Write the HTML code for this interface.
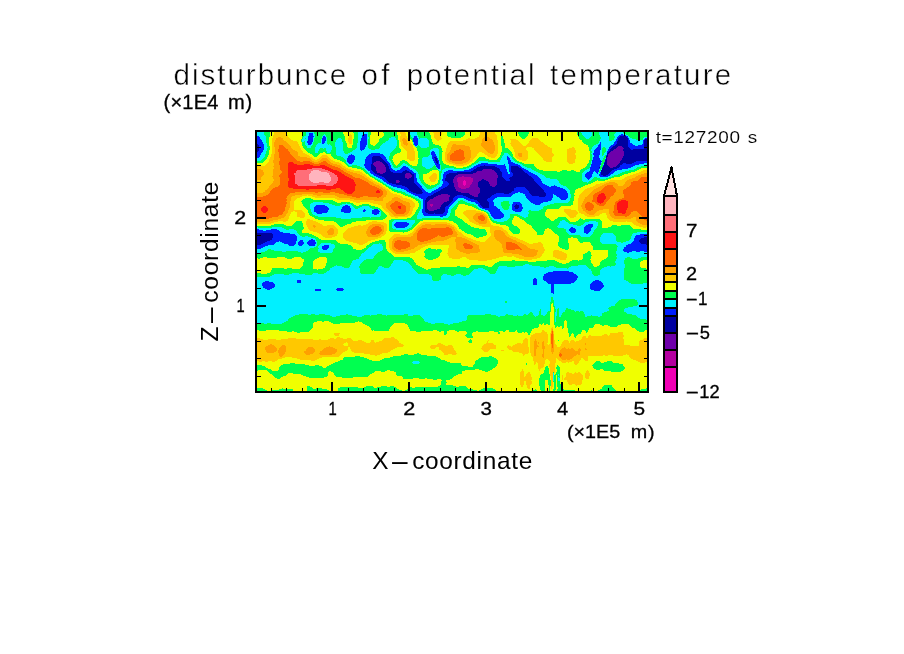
<!DOCTYPE html>
<html lang="en"><head><meta charset="utf-8"><title>disturbunce of potential temperature</title>
<style>
html,body{margin:0;padding:0;background:#fff}
body{width:904px;height:654px;overflow:hidden}
svg{display:block}
text{font-family:"Liberation Sans",sans-serif;fill:#000}
</style></head><body>
<svg width="904" height="654" viewBox="0 0 904 654">
<rect width="904" height="654" fill="#fff"/>
<g transform="translate(256,131)" shape-rendering="crispEdges">
<path fill="#F000B4" d="M208 49h1v1h-1zM207 50h3v4h-3zM208 54h1v1h-1z"/>
<path fill="#B400A0" d="M206 45h2v1h-2zM202 46h13v1h-13zM201 47h16v2h-16zM201 49h7v1h-7zM209 49h8v1h-8zM210 50h7v1h-7zM201 50h6v1h-6zM210 51h6v2h-6zM202 51h5v3h-5zM210 53h5v1h-5zM202 54h6v1h-6zM209 54h5v1h-5zM202 55h12v1h-12zM203 56h10v1h-10zM205 57h5v1h-5zM174 73h3v2h-3zM175 75h1v1h-1z"/>
<path fill="#6E00AA" d="M362 15h4v1h-4zM361 16h6v1h-6zM360 17h8v1h-8zM358 18h9v1h-9zM357 19h10v1h-10zM355 20h13v1h-13zM354 21h14v1h-14zM353 22h15v1h-15zM352 23h16v2h-16zM352 25h15v1h-15zM351 26h16v1h-16zM351 27h15v2h-15zM351 29h14v1h-14zM120 30h4v1h-4zM351 30h13v2h-13zM118 31h8v1h-8zM351 32h12v1h-12zM117 32h10v1h-10zM117 33h11v1h-11zM351 33h11v1h-11zM118 34h11v1h-11zM352 34h9v1h-9zM353 35h7v1h-7zM119 35h10v1h-10zM354 36h3v1h-3zM227 38h9v1h-9zM120 36h10v4h-10zM226 39h12v1h-12zM221 40h18v1h-18zM121 40h9v1h-9zM220 41h20v1h-20zM121 41h8v1h-8zM124 42h3v1h-3zM150 42h4v1h-4zM217 42h24v1h-24zM202 43h39v1h-39zM149 43h6v1h-6zM200 44h42v1h-42zM149 44h7v2h-7zM208 45h34v1h-34zM199 45h7v1h-7zM198 46h4v1h-4zM149 46h6v1h-6zM215 46h27v1h-27zM151 47h2v1h-2zM198 47h3v1h-3zM217 47h24v1h-24zM228 48h13v1h-13zM217 48h9v1h-9zM217 49h8v1h-8zM230 49h11v1h-11zM140 49h3v1h-3zM197 48h4v3h-4zM217 50h6v1h-6zM140 50h4v1h-4zM232 50h9v1h-9zM197 51h5v1h-5zM140 51h3v1h-3zM216 51h6v2h-6zM233 51h8v2h-8zM234 53h7v1h-7zM215 53h7v1h-7zM234 54h6v1h-6zM198 52h4v4h-4zM214 54h8v2h-8zM236 55h3v1h-3zM213 56h10v1h-10zM199 56h4v1h-4zM210 57h14v1h-14zM199 57h6v1h-6zM200 58h24v2h-24zM202 60h22v1h-22zM205 61h19v1h-19zM213 62h10v1h-10zM185 63h7v1h-7zM214 63h8v1h-8zM182 64h12v1h-12zM216 64h6v1h-6zM180 65h14v1h-14zM218 65h4v1h-4zM178 66h15v1h-15zM177 67h16v1h-16zM174 68h19v1h-19zM173 69h20v1h-20zM172 70h19v1h-19zM171 71h17v1h-17zM171 72h16v1h-16zM177 73h9v1h-9zM171 73h3v2h-3zM177 74h8v1h-8zM171 75h4v1h-4zM176 75h9v1h-9zM171 76h13v2h-13zM172 78h9v1h-9zM173 79h5v1h-5z"/>
<path fill="#0000A0" d="M364 5h6v1h-6zM363 6h8v1h-8zM389 8h3v1h-3zM362 7h10v3h-10zM361 10h11v3h-11zM0 12h1v1h-1zM0 13h2v1h-2zM360 13h12v1h-12zM359 14h13v1h-13zM388 9h4v7h-4zM357 15h5v1h-5zM366 15h6v1h-6zM356 16h5v1h-5zM367 16h6v1h-6zM389 16h3v1h-3zM388 17h4v1h-4zM355 17h5v1h-5zM368 17h6v1h-6zM354 18h4v1h-4zM377 18h15v1h-15zM367 18h8v1h-8zM0 14h3v6h-3zM354 19h3v1h-3zM367 19h25v1h-25zM0 20h2v1h-2zM353 20h2v1h-2zM352 21h2v1h-2zM351 22h2v1h-2zM368 20h24v5h-24zM351 23h1v2h-1zM117 25h7v1h-7zM350 25h2v1h-2zM367 25h25v2h-25zM116 26h9v1h-9zM178 26h2v1h-2zM116 27h10v1h-10zM350 26h1v3h-1zM366 27h26v2h-26zM116 28h11v1h-11zM179 27h2v3h-2zM116 29h12v1h-12zM365 29h27v1h-27zM116 30h4v1h-4zM124 30h5v1h-5zM364 30h16v1h-16zM349 29h2v3h-2zM180 30h2v2h-2zM126 31h4v1h-4zM116 31h2v1h-2zM364 31h14v1h-14zM116 32h1v1h-1zM127 32h4v1h-4zM363 32h4v1h-4zM181 32h1v1h-1zM370 32h6v1h-6zM348 32h3v2h-3zM362 33h4v1h-4zM115 33h2v1h-2zM128 33h4v1h-4zM228 34h1v1h-1zM348 34h4v1h-4zM361 34h3v1h-3zM115 34h3v1h-3zM129 34h3v1h-3zM224 35h15v1h-15zM360 35h4v1h-4zM115 35h4v1h-4zM129 35h4v1h-4zM255 35h7v1h-7zM347 35h6v1h-6zM221 36h20v1h-20zM357 36h6v1h-6zM347 36h7v1h-7zM343 36h1v1h-1zM255 36h8v1h-8zM130 36h3v2h-3zM220 37h23v1h-23zM346 37h15v1h-15zM255 37h10v1h-10zM115 36h5v3h-5zM218 38h9v1h-9zM255 38h11v1h-11zM346 38h12v1h-12zM236 38h8v1h-8zM130 38h4v2h-4zM149 39h2v1h-2zM345 39h11v1h-11zM238 39h6v1h-6zM217 39h9v1h-9zM255 39h12v1h-12zM116 39h4v1h-4zM215 40h6v1h-6zM239 40h6v1h-6zM255 40h13v1h-13zM147 40h6v1h-6zM130 40h5v1h-5zM345 40h10v1h-10zM117 40h4v1h-4zM345 41h9v1h-9zM201 41h19v1h-19zM118 41h3v1h-3zM240 41h6v1h-6zM146 41h9v1h-9zM129 41h8v1h-8zM256 41h13v1h-13zM154 42h2v1h-2zM193 42h24v1h-24zM345 42h8v1h-8zM127 42h23v1h-23zM257 42h14v1h-14zM119 42h5v1h-5zM241 42h5v2h-5zM345 43h7v1h-7zM155 43h3v1h-3zM257 43h15v1h-15zM191 43h11v1h-11zM121 43h28v1h-28zM123 44h26v1h-26zM347 44h3v1h-3zM190 44h10v1h-10zM257 44h16v1h-16zM242 44h4v2h-4zM156 44h2v2h-2zM256 45h19v1h-19zM126 45h23v1h-23zM190 45h9v1h-9zM155 46h3v1h-3zM190 46h8v1h-8zM254 46h22v1h-22zM128 46h21v1h-21zM242 46h5v1h-5zM129 47h22v1h-22zM253 47h24v1h-24zM241 47h7v1h-7zM153 47h5v1h-5zM189 47h9v1h-9zM241 48h8v1h-8zM130 48h28v1h-28zM226 48h2v1h-2zM189 48h8v2h-8zM254 48h24v2h-24zM143 49h15v1h-15zM131 49h9v1h-9zM241 49h9v1h-9zM225 49h5v1h-5zM223 50h9v1h-9zM241 50h38v1h-38zM144 50h14v1h-14zM132 50h8v1h-8zM191 50h6v1h-6zM241 51h39v1h-39zM133 51h7v1h-7zM143 51h15v1h-15zM192 51h5v1h-5zM222 51h11v2h-11zM136 52h23v1h-23zM241 52h40v1h-40zM193 52h5v2h-5zM241 53h41v1h-41zM140 53h20v1h-20zM222 53h12v2h-12zM146 54h15v1h-15zM240 54h43v1h-43zM192 54h6v1h-6zM149 55h13v1h-13zM191 55h7v1h-7zM239 55h45v1h-45zM222 55h14v1h-14zM189 56h10v1h-10zM223 56h37v1h-37zM269 56h16v1h-16zM151 56h12v1h-12zM270 57h16v1h-16zM187 57h12v1h-12zM152 57h12v1h-12zM271 58h16v1h-16zM153 58h12v1h-12zM185 58h15v1h-15zM224 57h34v3h-34zM272 59h16v1h-16zM184 59h16v1h-16zM153 59h13v1h-13zM182 60h20v1h-20zM224 60h32v1h-32zM155 60h11v1h-11zM273 60h15v1h-15zM273 61h16v1h-16zM224 61h31v1h-31zM180 61h25v1h-25zM157 61h10v1h-10zM248 62h5v1h-5zM178 62h35v1h-35zM160 62h6v1h-6zM223 62h17v1h-17zM274 62h16v1h-16zM177 63h8v1h-8zM275 63h15v1h-15zM192 63h22v1h-22zM222 63h16v1h-16zM276 64h14v1h-14zM207 64h9v1h-9zM175 64h7v1h-7zM194 64h7v1h-7zM222 64h14v1h-14zM210 65h8v1h-8zM222 65h13v1h-13zM283 65h6v1h-6zM172 65h8v1h-8zM194 65h5v1h-5zM212 66h22v1h-22zM193 66h5v1h-5zM171 66h7v1h-7zM214 67h18v1h-18zM170 67h7v1h-7zM218 68h13v1h-13zM170 68h4v1h-4zM193 67h4v3h-4zM169 69h4v1h-4zM221 69h10v1h-10zM191 70h5v1h-5zM222 70h10v1h-10zM169 70h3v1h-3zM188 71h7v1h-7zM223 71h10v1h-10zM187 72h7v1h-7zM224 72h9v2h-9zM260 73h1v1h-1zM186 73h7v1h-7zM225 74h8v1h-8zM185 74h7v1h-7zM259 74h4v1h-4zM226 75h7v1h-7zM258 75h5v1h-5zM185 75h5v1h-5zM227 76h6v1h-6zM259 76h4v1h-4zM169 71h2v7h-2zM184 76h5v2h-5zM259 77h3v1h-3zM181 78h8v1h-8zM169 78h3v1h-3zM169 79h4v1h-4zM178 79h11v1h-11zM169 80h20v1h-20zM170 81h18v1h-18zM179 82h8v1h-8zM172 82h6v1h-6zM0 102h16v1h-16zM0 103h17v4h-17zM388 106h4v1h-4zM385 107h7v1h-7zM0 107h16v2h-16zM384 108h8v1h-8zM0 109h14v1h-14zM383 109h9v2h-9zM0 110h11v1h-11zM384 111h8v1h-8zM0 111h9v1h-9zM0 112h7v1h-7zM385 112h7v1h-7zM390 113h2v1h-2zM0 113h5v1h-5z"/>
<path fill="#001EFF" d="M107 3h4v1h-4zM365 3h2v1h-2zM53 2h4v3h-4zM363 4h7v1h-7zM52 5h6v1h-6zM67 5h2v1h-2zM370 5h2v1h-2zM362 5h2v1h-2zM0 5h3v1h-3zM106 4h5v3h-5zM158 5h3v2h-3zM361 6h2v1h-2zM371 6h1v1h-1zM67 6h3v1h-3zM0 6h4v2h-4zM389 7h3v1h-3zM361 7h1v1h-1zM372 7h1v2h-1zM388 8h1v1h-1zM0 8h5v1h-5zM52 6h5v4h-5zM105 7h6v3h-6zM66 7h4v3h-4zM360 8h2v2h-2zM157 7h5v4h-5zM0 9h6v2h-6zM51 10h6v1h-6zM359 10h2v1h-2zM372 9h2v3h-2zM66 10h3v2h-3zM0 11h7v1h-7zM51 11h5v1h-5zM387 9h1v4h-1zM358 11h3v2h-3zM344 11h1v2h-1zM1 12h6v1h-6zM66 12h2v1h-2zM372 12h4v1h-4zM52 12h4v1h-4zM104 10h7v4h-7zM158 11h4v3h-4zM357 13h3v1h-3zM52 13h3v1h-3zM2 13h6v1h-6zM343 13h2v1h-2zM372 13h5v1h-5zM386 13h2v1h-2zM159 14h2v1h-2zM382 14h6v1h-6zM355 14h4v1h-4zM372 14h7v1h-7zM342 14h3v2h-3zM104 14h6v2h-6zM354 15h3v1h-3zM372 15h16v1h-16zM341 16h4v1h-4zM353 16h3v1h-3zM373 16h16v1h-16zM104 16h5v2h-5zM340 17h5v1h-5zM353 17h2v1h-2zM374 17h14v1h-14zM3 14h5v5h-5zM339 18h6v1h-6zM375 18h2v1h-2zM104 18h4v1h-4zM352 18h2v2h-2zM105 19h1v1h-1zM3 19h4v1h-4zM176 20h2v1h-2zM2 20h5v1h-5zM351 20h2v1h-2zM338 19h6v3h-6zM0 21h6v1h-6zM351 21h1v1h-1zM175 21h4v2h-4zM115 22h9v1h-9zM337 22h7v2h-7zM0 22h5v2h-5zM175 23h5v1h-5zM113 23h14v1h-14zM95 23h1v1h-1zM93 24h5v1h-5zM350 24h1v1h-1zM112 24h16v1h-16zM176 24h4v1h-4zM338 24h5v2h-5zM0 24h4v2h-4zM251 25h1v1h-1zM111 25h6v1h-6zM124 25h5v1h-5zM176 25h5v1h-5zM92 25h7v2h-7zM176 26h2v1h-2zM125 26h5v1h-5zM337 26h6v1h-6zM180 26h1v1h-1zM0 26h3v1h-3zM251 26h2v1h-2zM110 26h6v2h-6zM126 27h4v1h-4zM176 27h3v1h-3zM0 27h1v1h-1zM181 27h1v2h-1zM251 27h3v2h-3zM337 27h7v2h-7zM91 27h8v2h-8zM349 28h1v1h-1zM127 28h4v1h-4zM177 28h2v2h-2zM128 29h3v1h-3zM181 29h2v1h-2zM336 29h9v1h-9zM252 29h3v2h-3zM91 29h7v2h-7zM336 30h10v1h-10zM380 30h12v1h-12zM129 30h3v1h-3zM178 30h2v2h-2zM130 31h3v1h-3zM252 31h5v1h-5zM92 31h5v1h-5zM348 31h1v1h-1zM378 31h14v1h-14zM109 28h7v5h-7zM182 30h1v3h-1zM336 31h9v2h-9zM93 32h3v1h-3zM252 32h7v1h-7zM367 32h3v1h-3zM376 32h12v1h-12zM179 32h2v1h-2zM225 32h7v1h-7zM131 32h3v1h-3zM222 33h19v1h-19zM179 33h5v1h-5zM248 33h1v1h-1zM366 33h17v1h-17zM335 33h10v1h-10zM253 33h9v1h-9zM132 33h2v1h-2zM108 33h7v2h-7zM220 34h8v1h-8zM364 34h15v1h-15zM253 34h11v1h-11zM132 34h3v1h-3zM229 34h20v1h-20zM347 34h1v1h-1zM335 34h9v2h-9zM180 34h4v2h-4zM364 35h13v1h-13zM218 35h6v1h-6zM147 35h3v1h-3zM239 35h11v1h-11zM262 35h3v1h-3zM133 35h2v2h-2zM109 35h6v2h-6zM263 36h3v1h-3zM181 36h3v1h-3zM241 36h9v1h-9zM334 36h9v1h-9zM146 36h6v1h-6zM217 36h4v1h-4zM363 36h12v1h-12zM346 36h1v1h-1zM182 37h2v1h-2zM110 37h5v1h-5zM215 37h5v1h-5zM265 37h3v1h-3zM243 37h7v1h-7zM133 37h3v1h-3zM334 37h10v1h-10zM145 37h8v1h-8zM361 37h11v1h-11zM213 38h5v1h-5zM134 38h3v1h-3zM266 38h4v1h-4zM358 38h8v1h-8zM111 38h4v1h-4zM144 38h10v1h-10zM334 38h9v2h-9zM244 38h7v2h-7zM192 39h5v1h-5zM267 39h5v1h-5zM134 39h5v1h-5zM112 39h4v1h-4zM151 39h5v1h-5zM356 39h5v1h-5zM141 39h8v1h-8zM208 39h9v1h-9zM253 35h2v6h-2zM114 40h3v1h-3zM190 40h25v1h-25zM339 40h4v1h-4zM245 40h6v1h-6zM355 40h4v1h-4zM333 40h5v1h-5zM153 40h4v1h-4zM135 40h12v1h-12zM268 40h5v1h-5zM137 41h9v1h-9zM254 41h2v1h-2zM114 41h4v1h-4zM188 41h13v1h-13zM340 41h2v1h-2zM331 41h6v1h-6zM155 41h3v1h-3zM354 41h4v1h-4zM269 41h6v1h-6zM344 41h1v2h-1zM246 41h6v2h-6zM188 42h5v1h-5zM115 42h4v1h-4zM156 42h4v1h-4zM330 42h7v1h-7zM271 42h6v1h-6zM341 42h1v1h-1zM353 42h4v1h-4zM254 42h3v1h-3zM272 43h7v1h-7zM187 43h4v1h-4zM117 43h4v1h-4zM343 43h2v1h-2zM352 43h3v1h-3zM246 43h11v2h-11zM118 44h5v1h-5zM350 44h4v1h-4zM273 44h8v1h-8zM343 44h4v1h-4zM329 43h7v3h-7zM246 45h10v1h-10zM120 45h6v1h-6zM344 45h8v1h-8zM275 45h7v1h-7zM158 43h2v4h-2zM187 44h3v3h-3zM276 46h7v1h-7zM330 46h5v1h-5zM122 46h6v1h-6zM247 46h7v1h-7zM277 47h7v1h-7zM331 47h3v1h-3zM187 47h2v1h-2zM124 47h5v1h-5zM248 47h5v1h-5zM126 48h4v1h-4zM332 48h1v1h-1zM249 48h5v1h-5zM278 48h7v2h-7zM186 48h3v2h-3zM250 49h4v1h-4zM127 49h4v1h-4zM158 47h3v4h-3zM128 50h4v1h-4zM187 50h4v1h-4zM279 50h7v1h-7zM130 51h3v1h-3zM280 51h6v1h-6zM158 51h4v1h-4zM187 51h5v1h-5zM131 52h5v1h-5zM159 52h4v1h-4zM187 52h6v1h-6zM281 52h6v1h-6zM282 53h7v1h-7zM160 53h4v1h-4zM186 53h7v1h-7zM133 53h7v1h-7zM283 54h8v1h-8zM186 54h6v1h-6zM135 54h11v1h-11zM161 54h4v1h-4zM298 54h1v1h-1zM284 55h9v1h-9zM137 55h12v1h-12zM185 55h6v1h-6zM162 55h4v1h-4zM295 55h6v1h-6zM141 56h10v1h-10zM285 56h19v1h-19zM260 56h9v1h-9zM183 56h6v1h-6zM163 56h3v1h-3zM164 57h3v1h-3zM145 57h7v1h-7zM182 57h5v1h-5zM258 57h12v1h-12zM286 57h21v1h-21zM258 58h13v1h-13zM180 58h5v1h-5zM287 58h22v1h-22zM165 58h3v1h-3zM148 58h5v1h-5zM258 59h14v1h-14zM166 59h3v1h-3zM288 59h22v1h-22zM178 59h6v1h-6zM150 59h3v1h-3zM151 60h4v1h-4zM176 60h6v1h-6zM166 60h4v1h-4zM256 60h17v1h-17zM288 60h23v1h-23zM264 61h9v1h-9zM175 61h5v1h-5zM167 61h5v1h-5zM255 61h7v1h-7zM153 61h4v1h-4zM289 61h22v1h-22zM290 62h22v1h-22zM166 62h12v1h-12zM267 62h7v1h-7zM253 62h6v1h-6zM240 62h8v1h-8zM155 62h5v1h-5zM238 63h19v1h-19zM157 63h20v1h-20zM298 63h14v1h-14zM269 63h6v1h-6zM290 63h7v2h-7zM236 64h20v1h-20zM300 64h12v1h-12zM269 64h7v1h-7zM159 64h16v1h-16zM201 64h6v1h-6zM301 65h11v1h-11zM289 65h8v1h-8zM235 65h20v1h-20zM199 65h11v1h-11zM270 65h13v1h-13zM162 65h10v1h-10zM303 66h9v1h-9zM198 66h14v1h-14zM163 66h8v1h-8zM270 66h27v1h-27zM234 66h7v1h-7zM232 67h7v1h-7zM304 67h7v1h-7zM208 67h6v1h-6zM197 67h5v1h-5zM271 67h25v1h-25zM165 67h5v1h-5zM167 68h3v1h-3zM197 68h4v1h-4zM231 68h7v1h-7zM272 68h24v1h-24zM210 68h8v1h-8zM305 68h5v1h-5zM273 69h22v1h-22zM212 69h9v1h-9zM197 69h3v1h-3zM231 69h6v1h-6zM215 70h7v1h-7zM274 70h18v1h-18zM196 70h3v1h-3zM232 70h5v1h-5zM219 71h4v1h-4zM195 71h3v1h-3zM257 71h7v1h-7zM275 71h12v1h-12zM257 72h8v1h-8zM194 72h3v1h-3zM277 72h8v1h-8zM220 72h4v1h-4zM261 73h5v1h-5zM256 73h4v1h-4zM279 73h5v1h-5zM193 73h3v1h-3zM222 73h2v1h-2zM233 71h5v4h-5zM60 74h9v1h-9zM192 74h3v1h-3zM256 74h3v1h-3zM222 74h3v1h-3zM89 74h3v1h-3zM263 74h3v2h-3zM59 75h12v1h-12zM233 75h7v1h-7zM223 75h3v1h-3zM256 75h2v1h-2zM87 75h7v1h-7zM190 75h4v1h-4zM224 76h3v1h-3zM263 76h4v1h-4zM86 76h8v1h-8zM58 76h14v1h-14zM233 76h8v1h-8zM167 69h2v9h-2zM256 76h3v2h-3zM189 76h4v2h-4zM86 77h9v1h-9zM226 77h16v1h-16zM262 77h5v1h-5zM58 77h15v2h-15zM229 78h15v1h-15zM108 78h1v1h-1zM118 78h4v1h-4zM256 78h10v1h-10zM257 79h9v1h-9zM107 79h3v1h-3zM232 79h12v1h-12zM116 79h7v1h-7zM166 78h3v3h-3zM189 78h3v3h-3zM85 78h10v3h-10zM58 79h14v2h-14zM107 80h2v1h-2zM116 80h8v1h-8zM259 80h6v1h-6zM233 80h12v1h-12zM60 81h11v1h-11zM88 81h6v1h-6zM234 81h12v1h-12zM166 81h4v1h-4zM188 81h4v1h-4zM116 81h7v2h-7zM234 82h13v1h-13zM167 82h5v1h-5zM187 82h4v1h-4zM178 82h1v1h-1zM61 82h5v1h-5zM118 83h3v1h-3zM167 83h24v1h-24zM235 83h13v2h-13zM168 84h22v1h-22zM184 85h3v1h-3zM236 85h12v1h-12zM237 86h10v1h-10zM238 87h7v1h-7zM140 91h11v1h-11zM139 92h14v1h-14zM138 93h15v1h-15zM332 93h5v1h-5zM330 94h7v1h-7zM138 94h14v1h-14zM329 95h8v1h-8zM139 95h12v1h-12zM315 96h2v1h-2zM328 96h8v1h-8zM140 96h9v1h-9zM314 97h5v1h-5zM15 98h6v1h-6zM0 98h3v1h-3zM328 97h7v3h-7zM313 98h7v2h-7zM0 99h7v1h-7zM10 99h13v1h-13zM0 100h24v1h-24zM328 100h6v1h-6zM314 100h6v1h-6zM315 101h4v1h-4zM328 101h5v1h-5zM0 101h27v1h-27zM330 102h2v1h-2zM16 102h18v1h-18zM384 103h8v1h-8zM17 103h22v1h-22zM380 104h12v1h-12zM17 104h23v1h-23zM379 105h13v1h-13zM17 105h24v2h-24zM379 106h9v1h-9zM378 107h7v1h-7zM16 107h25v2h-25zM55 108h2v1h-2zM378 108h6v1h-6zM378 109h5v1h-5zM53 109h6v1h-6zM14 109h27v1h-27zM44 109h3v1h-3zM24 110h16v1h-16zM11 110h12v1h-12zM52 110h7v1h-7zM43 110h4v1h-4zM377 110h6v1h-6zM26 111h14v1h-14zM9 111h11v1h-11zM376 111h8v1h-8zM42 111h6v2h-6zM51 111h9v2h-9zM7 112h12v1h-12zM28 112h12v1h-12zM375 112h10v1h-10zM5 113h13v1h-13zM52 113h7v1h-7zM42 113h5v1h-5zM372 113h18v1h-18zM32 113h7v1h-7zM43 114h3v1h-3zM53 114h6v1h-6zM33 114h5v1h-5zM0 114h12v1h-12zM68 114h5v1h-5zM370 114h22v2h-22zM0 115h9v1h-9zM66 115h7v2h-7zM0 116h7v1h-7zM368 116h24v2h-24zM66 117h6v1h-6zM0 117h5v1h-5zM67 118h4v1h-4zM367 118h25v2h-25zM368 120h8v1h-8zM380 120h4v1h-4zM388 120h4v1h-4zM371 121h2v1h-2zM297 140h16v1h-16zM292 141h25v1h-25zM290 142h28v1h-28zM288 143h32v1h-32zM288 144h33v1h-33zM287 145h35v2h-35zM278 147h2v1h-2zM287 147h34v2h-34zM339 149h4v1h-4zM288 149h32v1h-32zM9 150h4v1h-4zM290 150h29v1h-29zM337 150h8v1h-8zM41 149h4v3h-4zM336 151h10v1h-10zM7 151h10v1h-10zM291 151h27v1h-27zM335 152h12v1h-12zM6 152h12v1h-12zM292 152h23v1h-23zM277 148h4v6h-4zM334 153h13v1h-13zM6 153h13v2h-13zM334 154h14v2h-14zM7 155h12v1h-12zM7 156h11v1h-11zM334 156h13v1h-13zM334 157h12v1h-12zM81 157h6v1h-6zM9 157h7v1h-7zM11 158h3v1h-3zM335 158h10v1h-10zM80 158h8v1h-8zM59 158h6v2h-6zM81 159h6v1h-6zM338 159h6v1h-6zM295 153h3v9h-3zM297 162h1v1h-1z"/>
<path fill="#00F0FF" d="M326 0h9v1h-9zM343 0h8v1h-8zM154 0h8v1h-8zM0 0h9v1h-9zM360 0h7v2h-7zM50 0h8v2h-8zM325 1h11v1h-11zM102 0h10v3h-10zM57 2h1v1h-1zM359 2h9v1h-9zM0 1h8v3h-8zM343 1h9v3h-9zM154 1h7v3h-7zM326 2h10v2h-10zM358 3h7v1h-7zM367 3h3v1h-3zM102 3h5v1h-5zM68 3h1v1h-1zM50 2h3v3h-3zM57 3h2v2h-2zM370 4h2v1h-2zM327 4h9v1h-9zM344 4h8v1h-8zM155 4h7v1h-7zM67 4h3v1h-3zM0 4h9v1h-9zM358 4h5v1h-5zM111 3h1v3h-1zM3 5h7v1h-7zM328 5h7v1h-7zM58 5h1v1h-1zM155 5h3v1h-3zM372 5h1v1h-1zM48 5h4v1h-4zM359 5h3v1h-3zM161 5h1v1h-1zM69 5h1v1h-1zM344 5h9v1h-9zM102 4h4v3h-4zM66 5h1v2h-1zM135 6h4v1h-4zM388 6h4v1h-4zM57 6h2v1h-2zM329 6h5v1h-5zM156 6h2v1h-2zM372 6h2v1h-2zM47 6h5v1h-5zM161 6h2v1h-2zM359 6h2v1h-2zM4 6h6v2h-6zM111 6h2v2h-2zM345 6h8v2h-8zM373 7h3v1h-3zM358 7h3v1h-3zM50 7h2v1h-2zM47 7h2v1h-2zM164 7h7v1h-7zM162 7h1v1h-1zM330 7h3v1h-3zM387 7h2v1h-2zM82 7h3v1h-3zM133 7h7v2h-7zM373 8h7v1h-7zM5 8h5v1h-5zM358 8h2v1h-2zM387 8h1v1h-1zM81 8h5v1h-5zM162 8h10v1h-10zM70 6h1v4h-1zM102 7h3v3h-3zM46 8h6v2h-6zM344 8h9v2h-9zM132 9h9v1h-9zM356 9h4v1h-4zM57 7h1v4h-1zM6 9h4v2h-4zM80 9h6v2h-6zM46 10h2v1h-2zM130 10h11v1h-11zM343 10h16v1h-16zM65 8h1v4h-1zM374 9h13v3h-13zM69 10h2v2h-2zM102 10h2v2h-2zM49 10h2v2h-2zM129 11h12v1h-12zM343 11h1v1h-1zM7 11h3v1h-3zM157 11h1v2h-1zM345 11h13v2h-13zM56 11h1v2h-1zM7 12h4v1h-4zM68 12h3v1h-3zM376 12h11v1h-11zM62 12h4v1h-4zM342 12h2v1h-2zM127 12h14v1h-14zM111 8h1v6h-1zM162 9h11v5h-11zM49 12h3v2h-3zM345 13h12v1h-12zM377 13h9v1h-9zM73 13h1v1h-1zM61 13h11v1h-11zM55 13h2v1h-2zM126 13h15v1h-15zM340 13h3v1h-3zM345 14h10v1h-10zM163 14h10v1h-10zM60 14h15v1h-15zM338 14h4v1h-4zM50 14h6v1h-6zM161 14h1v1h-1zM125 14h16v1h-16zM379 14h3v1h-3zM158 14h1v1h-1zM79 11h8v5h-8zM8 13h3v3h-3zM110 14h2v2h-2zM164 15h9v1h-9zM337 15h5v1h-5zM345 15h9v1h-9zM60 15h16v1h-16zM159 15h2v1h-2zM101 12h3v5h-3zM51 15h4v2h-4zM124 15h16v2h-16zM109 16h3v1h-3zM336 16h5v1h-5zM165 16h6v1h-6zM349 16h4v1h-4zM59 16h17v1h-17zM345 16h2v1h-2zM8 16h4v1h-4zM59 17h5v1h-5zM123 17h16v1h-16zM177 17h5v1h-5zM350 17h3v1h-3zM67 17h1v1h-1zM100 17h4v1h-4zM336 17h4v1h-4zM109 17h4v1h-4zM345 17h1v2h-1zM8 17h3v2h-3zM70 17h6v2h-6zM108 18h7v1h-7zM175 18h8v1h-8zM119 18h19v1h-19zM99 18h5v1h-5zM335 18h4v1h-4zM80 16h7v4h-7zM59 18h4v2h-4zM350 18h2v2h-2zM106 19h31v1h-31zM70 19h5v1h-5zM335 19h3v1h-3zM7 19h4v1h-4zM174 19h9v1h-9zM97 19h8v1h-8zM71 20h4v1h-4zM96 20h40v1h-40zM350 20h1v1h-1zM178 20h5v1h-5zM174 20h2v1h-2zM7 20h3v1h-3zM336 20h2v2h-2zM80 20h8v2h-8zM59 20h3v2h-3zM94 21h41v1h-41zM349 21h2v1h-2zM71 21h3v1h-3zM6 21h4v1h-4zM179 21h4v2h-4zM92 22h23v1h-23zM5 22h5v1h-5zM335 22h2v1h-2zM80 22h9v1h-9zM248 22h4v1h-4zM124 22h10v1h-10zM344 19h2v5h-2zM174 21h1v3h-1zM348 22h3v2h-3zM127 23h7v1h-7zM248 23h5v1h-5zM96 23h17v1h-17zM80 23h15v1h-15zM5 23h4v1h-4zM336 23h1v1h-1zM180 23h3v2h-3zM173 24h3v1h-3zM81 24h12v1h-12zM98 24h14v1h-14zM247 24h7v1h-7zM128 24h6v1h-6zM343 24h3v1h-3zM347 24h2v1h-2zM336 24h2v2h-2zM4 24h5v2h-5zM129 25h4v1h-4zM172 25h4v1h-4zM85 25h7v1h-7zM99 25h12v1h-12zM252 25h3v1h-3zM246 25h5v2h-5zM181 25h2v2h-2zM343 25h5v2h-5zM87 26h5v1h-5zM167 26h9v1h-9zM253 26h3v1h-3zM3 26h5v1h-5zM99 26h11v2h-11zM130 26h3v2h-3zM88 27h3v1h-3zM254 27h2v1h-2zM166 27h10v1h-10zM349 27h1v1h-1zM1 27h6v1h-6zM336 26h1v3h-1zM182 27h1v2h-1zM344 27h3v2h-3zM245 27h6v2h-6zM0 28h6v1h-6zM131 28h2v1h-2zM254 28h3v1h-3zM99 28h10v1h-10zM89 28h2v1h-2zM166 28h11v2h-11zM345 29h1v1h-1zM255 29h3v1h-3zM131 29h3v1h-3zM0 29h5v1h-5zM98 29h11v2h-11zM90 29h1v2h-1zM244 29h8v2h-8zM132 30h3v1h-3zM223 30h9v1h-9zM255 30h4v1h-4zM166 30h12v2h-12zM90 31h2v1h-2zM345 31h1v1h-1zM257 31h4v1h-4zM133 31h2v1h-2zM97 31h12v1h-12zM222 31h30v1h-30zM335 30h1v3h-1zM183 30h1v3h-1zM220 32h5v1h-5zM91 32h2v1h-2zM96 32h13v1h-13zM388 32h4v1h-4zM147 32h2v1h-2zM232 32h20v1h-20zM259 32h5v1h-5zM166 32h13v2h-13zM134 32h2v2h-2zM383 33h9v1h-9zM262 33h4v1h-4zM92 33h16v1h-16zM347 33h1v1h-1zM146 33h5v1h-5zM218 33h4v1h-4zM241 33h7v1h-7zM249 33h4v2h-4zM101 34h7v1h-7zM145 34h7v1h-7zM379 34h13v1h-13zM264 34h3v1h-3zM344 34h1v1h-1zM216 34h4v1h-4zM166 34h12v1h-12zM179 34h1v1h-1zM93 34h3v1h-3zM135 34h2v2h-2zM334 34h1v2h-1zM265 35h4v1h-4zM150 35h4v1h-4zM144 35h3v1h-3zM377 35h8v1h-8zM167 35h10v1h-10zM215 35h3v1h-3zM104 35h5v1h-5zM213 36h4v1h-4zM106 36h3v1h-3zM180 36h1v1h-1zM142 36h4v1h-4zM266 36h5v1h-5zM152 36h3v1h-3zM169 36h7v1h-7zM375 36h6v1h-6zM135 36h3v1h-3zM184 34h1v4h-1zM250 35h3v3h-3zM189 37h9v1h-9zM136 37h9v1h-9zM372 37h8v1h-8zM170 37h4v1h-4zM108 37h2v1h-2zM333 37h1v1h-1zM153 37h4v1h-4zM210 37h5v1h-5zM268 37h7v1h-7zM181 37h1v1h-1zM345 38h1v1h-1zM154 38h5v1h-5zM182 38h3v1h-3zM137 38h7v1h-7zM366 38h12v1h-12zM109 38h2v1h-2zM331 38h3v1h-3zM270 38h6v1h-6zM343 38h1v1h-1zM187 38h26v1h-26zM183 39h2v1h-2zM139 39h2v1h-2zM110 39h2v1h-2zM361 39h12v1h-12zM272 39h6v1h-6zM329 39h5v1h-5zM186 39h6v1h-6zM197 39h11v1h-11zM156 39h4v1h-4zM251 38h2v3h-2zM157 40h4v1h-4zM328 40h5v1h-5zM111 40h3v1h-3zM359 40h10v1h-10zM344 40h1v1h-1zM186 40h4v1h-4zM338 40h1v1h-1zM273 40h7v1h-7zM337 41h3v1h-3zM342 41h1v1h-1zM327 41h4v1h-4zM186 41h2v1h-2zM275 41h7v1h-7zM158 41h4v1h-4zM358 41h8v1h-8zM112 41h2v1h-2zM252 41h2v2h-2zM357 42h7v1h-7zM113 42h2v1h-2zM326 42h4v1h-4zM337 42h4v1h-4zM277 42h7v1h-7zM160 42h2v1h-2zM185 42h3v1h-3zM342 42h2v1h-2zM279 43h7v1h-7zM355 43h7v1h-7zM114 43h3v1h-3zM336 43h7v2h-7zM115 44h3v1h-3zM354 44h4v1h-4zM281 44h7v1h-7zM326 43h3v3h-3zM352 45h4v1h-4zM336 45h8v1h-8zM117 45h3v1h-3zM282 45h7v1h-7zM160 43h3v4h-3zM341 46h12v1h-12zM283 46h7v1h-7zM335 46h3v1h-3zM326 46h4v1h-4zM119 46h3v1h-3zM185 43h2v5h-2zM120 47h4v1h-4zM344 47h6v1h-6zM326 47h5v1h-5zM284 47h10v1h-10zM334 47h3v1h-3zM161 47h2v1h-2zM285 48h16v1h-16zM333 48h3v1h-3zM326 48h6v1h-6zM185 48h1v1h-1zM122 48h4v1h-4zM161 48h3v2h-3zM124 49h3v1h-3zM326 49h9v1h-9zM184 49h2v1h-2zM285 49h17v1h-17zM161 50h4v1h-4zM327 50h6v1h-6zM125 50h3v1h-3zM286 50h17v2h-17zM331 51h1v1h-1zM162 51h3v1h-3zM127 51h3v1h-3zM184 50h3v3h-3zM128 52h3v1h-3zM163 52h3v1h-3zM287 52h17v1h-17zM164 53h3v1h-3zM289 53h16v1h-16zM183 53h3v1h-3zM130 53h3v1h-3zM131 54h4v1h-4zM291 54h7v1h-7zM299 54h8v1h-8zM165 54h3v1h-3zM181 54h5v1h-5zM180 55h5v1h-5zM301 55h9v1h-9zM293 55h2v1h-2zM166 55h3v1h-3zM133 55h4v1h-4zM166 56h4v1h-4zM135 56h6v1h-6zM178 56h5v1h-5zM304 56h7v1h-7zM137 57h8v1h-8zM167 57h4v1h-4zM307 57h5v1h-5zM176 57h6v1h-6zM309 58h4v1h-4zM139 58h9v1h-9zM168 58h12v1h-12zM142 59h8v1h-8zM169 59h9v1h-9zM310 59h4v1h-4zM170 60h6v1h-6zM146 60h5v1h-5zM311 60h3v2h-3zM149 61h4v1h-4zM262 61h2v1h-2zM172 61h3v1h-3zM312 62h2v1h-2zM150 62h5v1h-5zM259 62h8v1h-8zM257 63h12v1h-12zM297 63h1v1h-1zM152 63h5v1h-5zM256 64h13v1h-13zM297 64h3v1h-3zM155 64h4v1h-4zM255 65h15v1h-15zM157 65h5v1h-5zM297 65h4v1h-4zM312 63h3v4h-3zM297 66h6v1h-6zM159 66h4v1h-4zM241 66h29v1h-29zM161 67h4v1h-4zM202 67h6v1h-6zM311 67h3v1h-3zM239 67h32v1h-32zM296 67h8v1h-8zM201 68h9v1h-9zM296 68h9v1h-9zM310 68h4v1h-4zM163 68h4v1h-4zM238 68h34v1h-34zM164 69h3v1h-3zM295 69h19v1h-19zM207 69h5v1h-5zM237 69h36v1h-36zM200 69h4v1h-4zM199 70h3v1h-3zM209 70h6v1h-6zM253 70h21v1h-21zM237 70h10v1h-10zM292 70h21v1h-21zM287 71h25v1h-25zM211 71h8v1h-8zM198 71h4v1h-4zM264 71h11v1h-11zM57 71h10v1h-10zM253 71h4v2h-4zM55 72h18v1h-18zM90 72h1v1h-1zM285 72h13v1h-13zM197 72h4v1h-4zM214 72h6v1h-6zM265 72h12v1h-12zM54 73h22v1h-22zM196 73h4v1h-4zM284 73h10v1h-10zM266 73h13v1h-13zM86 73h9v1h-9zM218 73h4v1h-4zM238 71h7v4h-7zM254 73h2v2h-2zM54 74h6v1h-6zM266 74h25v1h-25zM220 74h2v1h-2zM84 74h5v1h-5zM69 74h10v1h-10zM195 74h4v1h-4zM92 74h4v1h-4zM106 75h7v1h-7zM266 75h22v1h-22zM194 75h4v1h-4zM94 75h3v1h-3zM71 75h16v1h-16zM221 75h2v1h-2zM54 75h5v1h-5zM240 75h6v1h-6zM193 76h4v1h-4zM94 76h4v1h-4zM72 76h14v1h-14zM104 76h10v1h-10zM222 76h2v1h-2zM241 76h5v1h-5zM165 70h2v8h-2zM253 75h3v3h-3zM267 76h20v2h-20zM54 76h4v2h-4zM242 77h5v1h-5zM102 77h14v1h-14zM95 77h4v1h-4zM73 77h13v1h-13zM223 77h3v1h-3zM193 77h3v1h-3zM95 78h13v1h-13zM122 78h1v1h-1zM252 78h4v1h-4zM109 78h9v1h-9zM225 78h4v1h-4zM73 78h12v1h-12zM244 78h4v1h-4zM266 78h19v1h-19zM164 78h2v2h-2zM275 79h8v1h-8zM228 79h4v1h-4zM266 79h7v1h-7zM110 79h6v1h-6zM244 79h13v1h-13zM123 79h1v1h-1zM55 78h3v3h-3zM72 79h13v2h-13zM95 79h12v2h-12zM265 80h7v1h-7zM109 80h7v1h-7zM230 80h3v1h-3zM245 80h14v1h-14zM124 80h1v1h-1zM192 78h3v4h-3zM163 80h3v2h-3zM246 81h27v1h-27zM71 81h17v1h-17zM232 81h2v1h-2zM56 81h4v1h-4zM94 81h22v1h-22zM123 81h2v2h-2zM56 82h5v1h-5zM247 82h26v1h-26zM233 82h1v1h-1zM66 82h50v1h-50zM191 82h3v2h-3zM162 82h5v2h-5zM233 83h2v1h-2zM121 83h4v1h-4zM262 83h10v1h-10zM57 83h61v1h-61zM264 84h8v1h-8zM59 84h66v1h-66zM234 84h1v1h-1zM190 84h4v1h-4zM161 84h7v1h-7zM248 83h6v3h-6zM187 85h6v1h-6zM62 85h62v1h-62zM161 85h23v1h-23zM234 85h2v1h-2zM266 85h6v1h-6zM247 86h7v1h-7zM235 86h2v1h-2zM114 86h1v1h-1zM80 86h26v1h-26zM268 86h2v1h-2zM161 86h31v1h-31zM236 87h2v1h-2zM85 87h10v1h-10zM245 87h8v1h-8zM185 87h2v1h-2zM161 87h5v1h-5zM236 88h16v1h-16zM138 89h21v1h-21zM238 89h13v1h-13zM306 89h3v1h-3zM304 90h6v1h-6zM137 90h22v1h-22zM333 90h7v1h-7zM241 90h7v1h-7zM136 91h4v1h-4zM304 91h8v1h-8zM329 91h13v1h-13zM151 91h8v1h-8zM153 92h5v1h-5zM328 92h14v1h-14zM303 92h10v1h-10zM136 92h3v1h-3zM153 93h4v1h-4zM303 93h14v1h-14zM327 93h5v1h-5zM136 93h2v2h-2zM337 93h5v2h-5zM325 94h5v1h-5zM152 94h4v1h-4zM302 94h19v1h-19zM301 95h28v1h-28zM151 95h5v1h-5zM136 95h3v1h-3zM337 95h4v1h-4zM336 96h5v1h-5zM317 96h11v1h-11zM136 96h4v1h-4zM302 96h13v1h-13zM149 96h6v1h-6zM0 96h2v1h-2zM16 96h10v1h-10zM0 97h28v1h-28zM319 97h9v1h-9zM308 97h6v1h-6zM137 97h16v1h-16zM335 97h5v1h-5zM33 98h5v1h-5zM140 98h11v1h-11zM21 98h9v1h-9zM3 98h12v1h-12zM335 98h4v1h-4zM310 98h3v2h-3zM23 99h17v1h-17zM335 99h3v1h-3zM7 99h3v1h-3zM320 98h8v3h-8zM24 100h17v1h-17zM334 100h4v1h-4zM310 100h4v1h-4zM27 101h14v1h-14zM319 101h9v1h-9zM381 101h11v1h-11zM311 101h4v1h-4zM333 101h4v1h-4zM332 102h5v1h-5zM347 102h10v1h-10zM377 102h15v1h-15zM34 102h8v1h-8zM312 102h18v1h-18zM376 103h8v1h-8zM346 103h12v1h-12zM39 103h4v1h-4zM313 103h23v1h-23zM40 104h4v1h-4zM345 104h14v1h-14zM324 104h11v1h-11zM376 104h4v1h-4zM41 105h5v1h-5zM49 105h3v1h-3zM345 105h15v1h-15zM325 105h9v1h-9zM375 105h4v2h-4zM41 106h14v1h-14zM41 107h18v1h-18zM375 107h3v1h-3zM57 108h3v1h-3zM374 108h4v1h-4zM41 108h14v1h-14zM344 106h16v4h-16zM373 109h5v1h-5zM47 109h6v1h-6zM41 109h3v1h-3zM59 109h1v1h-1zM344 110h17v1h-17zM40 110h3v1h-3zM59 110h2v1h-2zM23 110h1v1h-1zM370 110h7v1h-7zM47 110h5v1h-5zM345 111h20v1h-20zM20 111h6v1h-6zM367 111h9v1h-9zM48 111h3v2h-3zM60 111h1v2h-1zM40 111h2v2h-2zM346 112h29v1h-29zM65 112h10v1h-10zM123 112h1v1h-1zM19 112h9v1h-9zM360 113h12v1h-12zM18 113h14v1h-14zM64 113h14v1h-14zM39 113h3v1h-3zM47 113h5v1h-5zM117 113h9v1h-9zM59 113h2v2h-2zM63 114h5v1h-5zM38 114h5v1h-5zM116 114h10v1h-10zM361 114h9v1h-9zM46 114h7v1h-7zM12 114h21v1h-21zM115 115h12v1h-12zM362 115h8v1h-8zM9 115h51v1h-51zM73 114h6v3h-6zM62 115h4v2h-4zM7 116h51v1h-51zM113 116h14v1h-14zM361 116h7v2h-7zM112 117h15v1h-15zM5 117h49v1h-49zM72 117h6v1h-6zM63 117h3v1h-3zM71 118h6v1h-6zM62 118h5v1h-5zM0 118h12v1h-12zM111 118h16v1h-16zM15 118h38v1h-38zM361 118h6v2h-6zM18 119h34v1h-34zM0 119h11v1h-11zM110 119h16v1h-16zM62 119h15v2h-15zM384 120h4v1h-4zM26 120h4v1h-4zM109 120h15v1h-15zM42 120h8v1h-8zM0 120h9v1h-9zM376 120h4v1h-4zM360 120h8v1h-8zM64 121h12v1h-12zM360 121h11v1h-11zM45 121h2v1h-2zM0 121h5v1h-5zM373 121h19v1h-19zM108 121h14v1h-14zM360 122h32v1h-32zM106 122h15v1h-15zM105 123h15v1h-15zM361 123h31v2h-31zM105 124h14v1h-14zM360 125h32v1h-32zM104 125h14v1h-14zM374 126h11v1h-11zM361 126h10v1h-10zM103 126h15v1h-15zM361 127h8v1h-8zM103 127h14v1h-14zM376 127h6v1h-6zM360 128h9v1h-9zM100 128h10v1h-10zM97 129h11v1h-11zM138 129h9v1h-9zM360 129h8v1h-8zM96 130h11v1h-11zM137 130h13v1h-13zM359 130h9v2h-9zM137 131h15v1h-15zM96 131h10v1h-10zM136 132h17v1h-17zM95 132h10v1h-10zM360 132h8v1h-8zM135 133h19v1h-19zM269 133h4v1h-4zM95 133h9v1h-9zM360 133h9v1h-9zM267 134h9v1h-9zM94 134h10v1h-10zM359 134h10v1h-10zM135 134h20v1h-20zM322 134h8v1h-8zM80 134h1v1h-1zM123 135h3v1h-3zM315 135h16v1h-16zM293 135h5v1h-5zM134 135h22v1h-22zM351 135h3v1h-3zM355 135h14v1h-14zM78 135h8v1h-8zM243 135h8v1h-8zM259 135h25v1h-25zM94 135h9v1h-9zM122 136h6v1h-6zM133 136h23v1h-23zM290 136h10v1h-10zM242 136h46v1h-46zM348 136h21v1h-21zM313 136h19v1h-19zM93 136h10v1h-10zM76 136h12v1h-12zM222 137h5v1h-5zM312 137h21v1h-21zM346 137h22v1h-22zM122 137h35v1h-35zM242 137h69v1h-69zM74 137h30v2h-30zM218 138h11v1h-11zM345 138h23v1h-23zM121 138h37v1h-37zM241 138h94v2h-94zM217 139h14v1h-14zM120 139h39v1h-39zM73 139h31v1h-31zM71 140h33v1h-33zM313 140h23v1h-23zM216 140h16v1h-16zM240 140h57v1h-57zM120 140h40v1h-40zM119 141h42v1h-42zM240 141h52v1h-52zM215 141h18v1h-18zM317 141h19v1h-19zM70 141h34v1h-34zM68 142h37v1h-37zM239 142h51v1h-51zM57 142h5v1h-5zM118 142h44v1h-44zM318 142h18v1h-18zM214 142h20v1h-20zM36 142h7v1h-7zM344 139h24v5h-24zM213 143h75v1h-75zM200 143h5v1h-5zM33 143h16v1h-16zM56 143h117v1h-117zM18 143h10v1h-10zM187 143h4v1h-4zM320 143h17v1h-17zM186 144h9v1h-9zM198 144h9v1h-9zM342 144h26v1h-26zM210 144h78v1h-78zM16 144h159v1h-159zM321 144h17v1h-17zM14 145h162v1h-162zM322 145h46v2h-46zM185 145h102v2h-102zM185 147h93v1h-93zM280 147h7v1h-7zM0 146h176v3h-176zM321 147h47v2h-47zM185 148h92v1h-92zM281 148h6v1h-6zM183 149h94v1h-94zM320 149h19v1h-19zM281 149h7v1h-7zM45 149h132v1h-132zM0 149h41v1h-41zM343 149h27v1h-27zM319 150h18v1h-18zM281 150h9v1h-9zM0 150h9v1h-9zM345 150h27v1h-27zM13 150h28v1h-28zM45 150h232v2h-232zM17 151h24v1h-24zM346 151h27v1h-27zM318 151h18v1h-18zM0 151h7v1h-7zM281 151h10v1h-10zM387 152h5v1h-5zM315 152h20v1h-20zM347 152h28v1h-28zM18 152h259v1h-259zM281 152h11v1h-11zM281 153h14v1h-14zM19 153h258v1h-258zM347 153h45v1h-45zM0 152h6v3h-6zM348 154h44v2h-44zM19 154h276v2h-276zM0 155h7v2h-7zM18 156h277v1h-277zM347 156h45v1h-45zM298 153h36v5h-36zM87 157h208v1h-208zM0 157h9v1h-9zM346 157h46v1h-46zM16 157h65v1h-65zM0 158h11v1h-11zM65 158h15v1h-15zM345 158h47v1h-47zM14 158h45v1h-45zM88 158h207v1h-207zM298 158h37v1h-37zM65 159h16v1h-16zM87 159h208v1h-208zM298 159h40v1h-40zM0 159h59v1h-59zM344 159h48v1h-48zM0 160h295v2h-295zM298 160h94v3h-94zM0 162h297v1h-297zM0 163h392v3h-392zM297 166h95v2h-95zM379 168h13v1h-13zM297 168h68v1h-68zM0 166h295v4h-295zM298 169h65v1h-65zM381 169h11v2h-11zM298 170h64v1h-64zM251 170h44v1h-44zM0 170h249v2h-249zM298 171h63v1h-63zM251 171h43v1h-43zM298 172h62v1h-62zM382 171h10v3h-10zM298 173h61v2h-61zM381 174h11v1h-11zM377 175h15v1h-15zM299 175h56v1h-56zM299 176h54v1h-54zM372 176h20v1h-20zM0 172h294v6h-294zM299 177h3v1h-3zM369 177h23v1h-23zM312 177h40v1h-40zM303 177h7v2h-7zM315 178h38v1h-38zM0 178h284v2h-284zM285 178h9v2h-9zM318 179h35v1h-35zM300 178h1v3h-1zM368 178h24v3h-24zM303 179h6v2h-6zM323 180h1v1h-1zM319 180h1v1h-1zM285 180h7v1h-7zM327 180h24v1h-24zM0 180h283v1h-283zM0 181h274v1h-274zM328 181h20v1h-20zM276 181h7v1h-7zM303 181h4v1h-4zM370 181h22v1h-22zM285 181h6v2h-6zM371 182h21v1h-21zM328 182h18v1h-18zM0 182h273v1h-273zM303 182h3v2h-3zM277 182h6v2h-6zM329 183h17v1h-17zM285 183h5v1h-5zM0 183h43v1h-43zM92 183h29v1h-29zM235 183h15v1h-15zM376 183h16v1h-16zM59 183h4v1h-4zM69 183h21v1h-21zM270 183h2v1h-2zM152 183h77v1h-77zM126 183h22v1h-22zM52 183h3v1h-3zM252 183h16v1h-16zM299 181h2v4h-2zM329 184h6v1h-6zM0 184h39v1h-39zM278 184h4v1h-4zM287 184h2v1h-2zM240 184h9v1h-9zM164 184h48v1h-48zM152 184h5v1h-5zM257 184h4v1h-4zM262 184h5v1h-5zM114 184h1v1h-1zM336 184h10v1h-10zM74 184h10v1h-10zM380 184h12v1h-12zM130 184h1v1h-1zM96 184h12v1h-12zM303 184h2v2h-2zM329 185h2v1h-2zM101 185h5v1h-5zM165 185h46v1h-46zM279 185h1v1h-1zM381 185h11v1h-11zM242 185h2v1h-2zM76 185h4v1h-4zM342 185h2v1h-2zM0 185h37v1h-37zM0 186h35v1h-35zM166 186h45v1h-45zM382 186h10v1h-10zM167 187h44v1h-44zM0 187h33v1h-33zM384 187h8v1h-8zM168 188h43v1h-43zM390 188h2v1h-2zM0 188h32v2h-32zM168 189h42v1h-42zM299 185h1v6h-1zM169 190h37v1h-37zM0 190h30v1h-30zM0 191h28v1h-28zM172 191h31v1h-31zM8 192h3v1h-3zM0 192h3v1h-3zM175 192h4v1h-4zM15 192h11v1h-11zM188 192h9v1h-9zM192 193h2v1h-2zM157 230h6v1h-6zM156 231h8v1h-8zM157 232h6v1h-6zM302 243h1v2h-1zM302 246h1v1h-1zM297 242h1v8h-1zM302 247h2v3h-2z"/>
<path fill="#00FF50" d="M263 0h10v1h-10zM351 0h9v1h-9zM9 0h5v1h-5zM320 0h6v1h-6zM335 0h8v1h-8zM162 0h11v1h-11zM127 0h13v1h-13zM47 0h3v2h-3zM97 0h5v2h-5zM367 0h25v2h-25zM161 1h12v1h-12zM127 1h14v1h-14zM321 1h4v1h-4zM352 1h8v1h-8zM58 0h29v3h-29zM262 1h11v2h-11zM352 2h7v1h-7zM368 2h24v1h-24zM112 0h3v4h-3zM191 0h18v4h-18zM152 0h2v4h-2zM8 1h6v3h-6zM336 1h7v3h-7zM128 2h13v2h-13zM321 2h5v2h-5zM161 2h13v2h-13zM69 3h19v1h-19zM370 3h22v1h-22zM59 3h9v1h-9zM46 2h4v3h-4zM263 3h9v2h-9zM352 3h6v2h-6zM152 4h3v1h-3zM245 4h1v1h-1zM70 4h18v1h-18zM59 4h8v1h-8zM336 4h8v1h-8zM372 4h20v1h-20zM9 4h5v1h-5zM191 4h17v1h-17zM128 4h14v1h-14zM322 4h5v1h-5zM112 4h2v2h-2zM162 4h13v2h-13zM153 5h2v1h-2zM127 5h15v1h-15zM264 5h7v1h-7zM335 5h9v1h-9zM373 5h19v1h-19zM322 5h6v1h-6zM10 5h4v1h-4zM46 5h2v1h-2zM70 5h19v1h-19zM192 5h15v1h-15zM353 5h6v2h-6zM59 5h7v2h-7zM323 6h6v1h-6zM139 6h3v1h-3zM126 6h9v1h-9zM374 6h14v1h-14zM71 6h18v1h-18zM153 6h3v1h-3zM195 6h10v1h-10zM265 6h5v1h-5zM334 6h11v1h-11zM163 6h12v1h-12zM98 2h4v6h-4zM245 5h2v3h-2zM46 6h1v2h-1zM113 6h1v2h-1zM49 7h1v1h-1zM124 7h9v1h-9zM171 7h4v1h-4zM333 7h12v1h-12zM376 7h11v1h-11zM85 7h4v1h-4zM71 7h11v1h-11zM58 7h8v1h-8zM323 7h7v1h-7zM266 7h3v1h-3zM154 7h3v1h-3zM163 7h1v1h-1zM353 7h5v2h-5zM140 7h2v2h-2zM172 8h4v1h-4zM324 8h20v1h-20zM123 8h10v1h-10zM155 8h2v1h-2zM380 8h7v1h-7zM71 8h10v1h-10zM86 8h3v2h-3zM326 9h18v1h-18zM353 9h3v1h-3zM123 9h9v1h-9zM45 8h1v3h-1zM58 8h7v3h-7zM71 9h9v2h-9zM173 9h3v2h-3zM156 9h1v2h-1zM326 10h17v1h-17zM48 10h1v1h-1zM86 10h4v1h-4zM123 10h7v1h-7zM10 6h3v6h-3zM245 8h3v4h-3zM97 8h5v4h-5zM122 11h7v1h-7zM327 11h16v1h-16zM57 11h8v1h-8zM87 11h3v1h-3zM112 8h2v5h-2zM173 11h4v2h-4zM71 11h8v2h-8zM121 12h6v1h-6zM328 12h14v1h-14zM57 12h5v1h-5zM46 11h3v3h-3zM97 12h4v2h-4zM157 13h1v1h-1zM112 13h3v1h-3zM330 13h10v1h-10zM57 13h4v1h-4zM173 13h6v1h-6zM72 13h1v1h-1zM120 13h6v1h-6zM74 13h5v1h-5zM141 9h2v6h-2zM11 12h2v3h-2zM245 12h4v3h-4zM56 14h4v1h-4zM332 14h6v1h-6zM119 14h6v1h-6zM162 14h1v1h-1zM112 14h5v1h-5zM75 14h4v1h-4zM173 14h10v1h-10zM46 14h4v1h-4zM87 12h4v4h-4zM55 15h5v1h-5zM161 15h3v1h-3zM11 15h3v1h-3zM173 15h12v1h-12zM332 15h5v1h-5zM76 15h3v1h-3zM96 14h5v3h-5zM47 15h4v2h-4zM112 15h12v2h-12zM140 15h3v2h-3zM246 15h3v2h-3zM160 16h5v1h-5zM12 16h2v1h-2zM55 16h4v1h-4zM347 16h2v1h-2zM171 16h14v1h-14zM87 16h5v1h-5zM333 16h3v2h-3zM64 17h3v1h-3zM87 17h13v1h-13zM246 17h6v1h-6zM161 17h16v1h-16zM139 17h5v1h-5zM182 17h4v1h-4zM113 17h10v1h-10zM68 17h2v1h-2zM48 17h11v1h-11zM76 16h4v3h-4zM11 17h3v2h-3zM161 18h14v1h-14zM138 18h7v1h-7zM115 18h4v1h-4zM87 18h12v1h-12zM246 18h7v1h-7zM49 18h10v1h-10zM183 18h3v2h-3zM333 18h2v2h-2zM63 18h7v2h-7zM11 19h2v1h-2zM246 19h8v1h-8zM87 19h10v1h-10zM50 19h9v1h-9zM161 19h13v1h-13zM137 19h8v1h-8zM346 17h4v4h-4zM75 19h5v2h-5zM62 20h9v1h-9zM88 20h8v1h-8zM136 20h9v1h-9zM246 20h9v1h-9zM51 20h8v1h-8zM183 20h4v1h-4zM334 20h2v2h-2zM62 21h5v1h-5zM74 21h6v1h-6zM245 21h11v1h-11zM135 21h9v1h-9zM52 21h7v1h-7zM88 21h6v1h-6zM69 21h2v1h-2zM346 21h3v1h-3zM10 20h3v3h-3zM89 22h3v1h-3zM54 22h10v1h-10zM334 22h1v1h-1zM252 22h4v1h-4zM70 22h10v1h-10zM134 22h7v1h-7zM162 20h12v4h-12zM245 22h3v2h-3zM346 22h2v2h-2zM75 23h5v1h-5zM253 23h4v1h-4zM134 23h5v1h-5zM56 23h7v1h-7zM9 23h4v1h-4zM346 24h1v1h-1zM134 24h4v1h-4zM254 24h3v1h-3zM349 24h1v1h-1zM75 24h6v1h-6zM162 24h11v1h-11zM244 24h3v1h-3zM57 24h5v1h-5zM9 24h3v2h-3zM76 25h9v1h-9zM58 25h3v1h-3zM255 25h2v1h-2zM162 25h10v1h-10zM244 25h2v1h-2zM348 25h2v2h-2zM162 26h5v1h-5zM223 26h6v1h-6zM243 26h3v1h-3zM77 26h10v1h-10zM8 26h3v1h-3zM256 26h2v1h-2zM133 25h4v3h-4zM7 27h4v1h-4zM78 27h10v1h-10zM256 27h3v1h-3zM222 27h8v1h-8zM242 27h3v1h-3zM163 27h3v1h-3zM334 23h2v6h-2zM347 27h2v2h-2zM133 28h3v1h-3zM6 28h4v1h-4zM81 28h8v1h-8zM221 28h12v1h-12zM257 28h3v1h-3zM241 28h4v1h-4zM183 21h3v9h-3zM220 29h24v1h-24zM146 29h3v1h-3zM258 29h3v1h-3zM333 29h3v1h-3zM5 29h4v1h-4zM134 29h3v1h-3zM84 29h6v1h-6zM346 29h3v2h-3zM232 30h12v1h-12zM144 30h7v1h-7zM219 30h4v1h-4zM86 30h4v1h-4zM135 30h2v1h-2zM259 30h4v1h-4zM0 30h8v1h-8zM333 30h2v2h-2zM184 30h3v2h-3zM144 31h8v1h-8zM135 31h3v1h-3zM88 31h2v1h-2zM0 31h7v1h-7zM218 31h4v1h-4zM346 31h2v1h-2zM261 31h5v1h-5zM162 28h4v5h-4zM149 32h4v1h-4zM216 32h4v1h-4zM184 32h4v1h-4zM143 32h4v1h-4zM89 32h2v1h-2zM264 32h4v1h-4zM332 32h3v1h-3zM345 32h3v1h-3zM136 32h2v1h-2zM331 33h4v1h-4zM136 33h3v1h-3zM215 33h3v1h-3zM184 33h6v1h-6zM90 33h2v1h-2zM142 33h4v1h-4zM266 33h12v1h-12zM151 33h3v1h-3zM345 33h2v2h-2zM161 33h5v2h-5zM185 34h8v1h-8zM141 34h4v1h-4zM213 34h3v1h-3zM331 34h3v1h-3zM152 34h4v1h-4zM267 34h11v1h-11zM96 34h5v1h-5zM178 34h1v1h-1zM137 34h3v1h-3zM91 34h2v1h-2zM330 35h4v1h-4zM137 35h7v1h-7zM154 35h13v1h-13zM344 35h3v1h-3zM269 35h10v1h-10zM92 35h12v1h-12zM185 35h13v1h-13zM385 35h7v1h-7zM177 35h3v1h-3zM211 35h4v1h-4zM155 36h14v1h-14zM381 36h11v1h-11zM207 36h6v1h-6zM271 36h9v1h-9zM329 36h5v1h-5zM176 36h4v1h-4zM96 36h10v1h-10zM138 36h4v1h-4zM185 36h15v1h-15zM344 36h2v2h-2zM327 37h6v1h-6zM174 37h7v1h-7zM198 37h12v1h-12zM275 37h6v1h-6zM157 37h13v1h-13zM380 37h5v1h-5zM101 37h7v1h-7zM185 37h4v1h-4zM344 38h1v1h-1zM105 38h4v1h-4zM276 38h7v1h-7zM378 38h5v1h-5zM185 38h2v1h-2zM159 38h23v1h-23zM325 38h6v1h-6zM107 39h3v1h-3zM343 39h2v1h-2zM324 39h5v1h-5zM160 39h16v1h-16zM185 39h1v1h-1zM373 39h8v1h-8zM278 39h9v1h-9zM306 39h5v1h-5zM315 39h3v1h-3zM182 39h1v1h-1zM280 40h21v1h-21zM324 40h4v1h-4zM304 40h16v1h-16zM108 40h3v1h-3zM161 40h13v1h-13zM369 40h10v1h-10zM183 40h3v2h-3zM343 40h1v2h-1zM282 41h45v1h-45zM366 41h9v1h-9zM109 41h3v1h-3zM162 41h11v1h-11zM110 42h3v1h-3zM284 42h42v1h-42zM364 42h8v1h-8zM162 42h9v1h-9zM362 43h6v1h-6zM286 43h40v1h-40zM112 43h2v1h-2zM113 44h2v1h-2zM288 44h38v1h-38zM358 44h8v1h-8zM289 45h37v1h-37zM114 45h3v1h-3zM356 45h8v1h-8zM116 46h3v1h-3zM290 46h36v1h-36zM338 46h3v1h-3zM353 46h5v1h-5zM163 43h4v5h-4zM350 47h5v1h-5zM118 47h2v1h-2zM337 47h7v1h-7zM294 47h32v1h-32zM183 42h2v7h-2zM119 48h3v1h-3zM164 48h3v1h-3zM336 48h16v1h-16zM301 48h25v1h-25zM342 49h7v1h-7zM302 49h24v1h-24zM164 49h4v1h-4zM121 49h3v1h-3zM335 49h6v1h-6zM165 50h3v1h-3zM303 50h24v1h-24zM333 50h6v1h-6zM122 50h3v1h-3zM182 49h2v3h-2zM332 51h5v1h-5zM165 51h4v1h-4zM124 51h3v1h-3zM303 51h28v1h-28zM181 52h3v1h-3zM304 52h31v1h-31zM126 52h2v1h-2zM166 52h4v1h-4zM305 53h27v1h-27zM179 53h4v1h-4zM127 53h3v1h-3zM167 53h5v1h-5zM168 54h6v1h-6zM175 54h6v1h-6zM129 54h2v1h-2zM307 54h22v1h-22zM310 55h17v1h-17zM169 55h11v1h-11zM130 55h3v1h-3zM170 56h8v1h-8zM132 56h3v1h-3zM311 56h14v1h-14zM312 57h10v1h-10zM133 57h4v1h-4zM171 57h5v1h-5zM135 58h4v1h-4zM313 58h7v1h-7zM136 59h6v1h-6zM138 60h8v1h-8zM314 59h5v3h-5zM141 61h8v1h-8zM314 62h4v1h-4zM145 62h5v1h-5zM315 63h3v1h-3zM147 63h5v1h-5zM149 64h6v1h-6zM315 64h4v1h-4zM152 65h5v1h-5zM315 65h3v2h-3zM155 66h4v1h-4zM157 67h4v1h-4zM49 67h6v1h-6zM47 68h10v1h-10zM159 68h4v1h-4zM314 67h4v3h-4zM160 69h4v1h-4zM46 69h31v1h-31zM204 69h3v1h-3zM45 70h34v1h-34zM313 70h4v1h-4zM202 70h7v1h-7zM247 70h6v1h-6zM162 70h3v2h-3zM67 71h14v1h-14zM85 71h9v1h-9zM202 71h9v1h-9zM312 71h5v1h-5zM46 71h11v1h-11zM245 71h8v2h-8zM91 72h6v1h-6zM73 72h17v1h-17zM201 72h13v1h-13zM46 72h9v1h-9zM298 72h19v1h-19zM95 73h3v1h-3zM209 73h9v1h-9zM76 73h10v1h-10zM200 73h3v1h-3zM106 73h7v1h-7zM294 73h23v1h-23zM245 73h9v2h-9zM47 73h7v2h-7zM79 74h5v1h-5zM291 74h24v1h-24zM96 74h4v1h-4zM212 74h8v1h-8zM199 74h3v1h-3zM103 74h12v1h-12zM163 72h2v4h-2zM198 75h4v1h-4zM48 75h6v1h-6zM113 75h6v1h-6zM216 75h5v1h-5zM288 75h17v1h-17zM97 75h9v1h-9zM246 75h7v2h-7zM287 76h17v1h-17zM49 76h5v1h-5zM114 76h8v1h-8zM98 76h6v1h-6zM218 76h4v1h-4zM197 76h4v1h-4zM162 76h3v2h-3zM196 77h5v1h-5zM99 77h3v1h-3zM247 77h6v1h-6zM220 77h3v1h-3zM287 77h16v1h-16zM116 77h8v1h-8zM50 77h4v1h-4zM123 78h2v1h-2zM161 78h3v1h-3zM248 78h4v1h-4zM285 78h6v1h-6zM51 78h4v1h-4zM222 78h3v1h-3zM195 78h5v1h-5zM124 79h2v1h-2zM160 79h4v1h-4zM273 79h2v1h-2zM225 79h3v1h-3zM283 79h7v1h-7zM52 79h3v2h-3zM228 80h2v1h-2zM272 80h18v1h-18zM125 80h2v1h-2zM160 80h3v1h-3zM195 79h4v3h-4zM52 81h4v1h-4zM125 81h3v1h-3zM159 81h4v1h-4zM230 81h2v1h-2zM273 81h16v2h-16zM231 82h2v1h-2zM159 82h3v1h-3zM53 82h3v1h-3zM125 82h4v1h-4zM232 83h1v1h-1zM53 83h4v1h-4zM158 83h4v1h-4zM125 83h5v1h-5zM254 83h8v1h-8zM194 82h5v3h-5zM272 83h17v2h-17zM254 84h10v1h-10zM125 84h6v1h-6zM54 84h5v1h-5zM157 84h4v1h-4zM232 84h2v1h-2zM124 85h7v1h-7zM56 85h6v1h-6zM233 85h1v1h-1zM261 85h5v1h-5zM272 85h18v1h-18zM193 85h8v1h-8zM156 85h5v1h-5zM254 85h4v2h-4zM192 86h10v1h-10zM302 86h8v1h-8zM58 86h22v1h-22zM106 86h8v1h-8zM115 86h15v1h-15zM263 86h5v1h-5zM155 86h6v1h-6zM270 86h21v1h-21zM233 86h2v1h-2zM166 87h19v1h-19zM59 87h26v1h-26zM264 87h29v1h-29zM95 87h34v1h-34zM151 87h10v1h-10zM253 87h4v1h-4zM301 87h10v1h-10zM187 87h17v1h-17zM324 87h1v1h-1zM234 87h2v2h-2zM323 88h4v1h-4zM135 88h71v1h-71zM252 88h5v1h-5zM266 88h28v1h-28zM329 88h15v1h-15zM299 88h13v1h-13zM62 88h65v1h-65zM193 89h14v1h-14zM309 89h4v1h-4zM268 89h27v1h-27zM133 89h5v1h-5zM235 89h3v1h-3zM68 89h42v1h-42zM322 89h23v1h-23zM298 89h8v1h-8zM159 89h8v1h-8zM251 89h5v1h-5zM269 90h35v1h-35zM159 90h5v1h-5zM340 90h6v1h-6zM310 90h4v1h-4zM236 90h5v1h-5zM197 90h11v1h-11zM320 90h13v1h-13zM133 90h4v1h-4zM40 90h6v1h-6zM248 90h8v1h-8zM78 90h22v1h-22zM312 91h17v1h-17zM237 91h19v1h-19zM159 91h4v1h-4zM270 91h34v1h-34zM39 91h7v1h-7zM80 91h16v1h-16zM198 91h11v1h-11zM38 92h9v1h-9zM313 92h15v1h-15zM158 92h4v1h-4zM200 92h11v1h-11zM271 92h32v1h-32zM81 92h14v1h-14zM240 92h16v1h-16zM273 93h30v1h-30zM244 93h13v1h-13zM317 93h10v1h-10zM37 93h10v1h-10zM157 93h4v1h-4zM18 93h10v1h-10zM201 93h11v1h-11zM82 93h9v1h-9zM342 91h4v4h-4zM275 94h27v1h-27zM356 94h5v1h-5zM202 94h12v1h-12zM250 94h8v1h-8zM365 94h9v1h-9zM36 94h11v1h-11zM83 94h6v1h-6zM156 94h4v1h-4zM321 94h4v1h-4zM15 94h15v1h-15zM156 95h3v1h-3zM276 95h25v1h-25zM0 95h47v1h-47zM355 95h20v1h-20zM252 95h9v1h-9zM202 95h13v1h-13zM84 95h3v1h-3zM133 91h3v6h-3zM341 95h5v2h-5zM155 96h3v1h-3zM203 96h15v1h-15zM253 96h9v1h-9zM2 96h14v1h-14zM276 96h26v1h-26zM352 96h24v1h-24zM26 96h22v1h-22zM203 97h20v1h-20zM340 97h37v1h-37zM153 97h4v1h-4zM277 97h14v1h-14zM293 97h15v1h-15zM133 97h4v1h-4zM28 97h20v1h-20zM253 97h10v1h-10zM205 98h24v1h-24zM38 98h9v1h-9zM133 98h7v1h-7zM253 98h11v1h-11zM295 98h15v1h-15zM339 98h46v1h-46zM30 98h3v1h-3zM278 98h11v1h-11zM151 98h5v1h-5zM254 99h10v1h-10zM40 99h6v1h-6zM206 99h24v1h-24zM133 99h21v1h-21zM279 99h10v1h-10zM296 99h14v1h-14zM338 99h54v2h-54zM208 100h22v1h-22zM297 100h13v1h-13zM134 100h18v1h-18zM280 100h8v1h-8zM255 100h9v1h-9zM41 100h5v2h-5zM256 101h8v1h-8zM337 101h44v1h-44zM298 101h13v1h-13zM209 101h22v1h-22zM147 101h1v1h-1zM281 101h7v2h-7zM257 102h6v1h-6zM357 102h20v1h-20zM211 102h20v1h-20zM299 102h13v1h-13zM337 102h10v1h-10zM42 102h11v1h-11zM336 103h10v1h-10zM215 103h16v1h-16zM358 103h18v1h-18zM301 103h12v1h-12zM43 103h13v1h-13zM281 103h6v1h-6zM302 104h22v1h-22zM217 104h13v1h-13zM359 104h17v1h-17zM335 104h10v1h-10zM44 104h14v1h-14zM218 105h9v1h-9zM52 105h8v1h-8zM46 105h3v1h-3zM303 105h22v1h-22zM334 105h11v1h-11zM55 106h7v1h-7zM303 106h12v1h-12zM317 106h27v1h-27zM220 106h3v1h-3zM360 105h15v3h-15zM321 107h23v1h-23zM59 107h4v1h-4zM60 108h5v1h-5zM360 108h14v1h-14zM322 108h22v2h-22zM123 109h6v1h-6zM360 109h13v1h-13zM60 109h20v1h-20zM303 107h9v4h-9zM323 110h21v1h-21zM361 110h9v1h-9zM119 110h10v1h-10zM61 110h20v1h-20zM324 111h3v1h-3zM116 111h14v1h-14zM365 111h2v1h-2zM302 111h10v1h-10zM61 111h21v1h-21zM334 111h11v1h-11zM61 112h4v1h-4zM75 112h9v1h-9zM124 112h6v1h-6zM335 112h11v1h-11zM114 112h9v1h-9zM335 113h25v1h-25zM113 113h4v1h-4zM78 113h14v1h-14zM61 113h3v1h-3zM302 112h11v3h-11zM126 113h4v2h-4zM111 114h5v1h-5zM61 114h2v1h-2zM336 114h25v1h-25zM79 114h16v1h-16zM303 115h10v1h-10zM110 115h5v1h-5zM79 115h17v1h-17zM60 115h2v1h-2zM337 115h25v1h-25zM79 116h18v1h-18zM110 116h3v1h-3zM58 116h4v1h-4zM304 116h9v1h-9zM127 115h3v3h-3zM108 117h4v1h-4zM78 117h19v1h-19zM172 117h3v1h-3zM306 117h7v1h-7zM54 117h9v1h-9zM337 116h24v3h-24zM53 118h9v1h-9zM181 118h4v1h-4zM77 118h23v1h-23zM170 118h10v1h-10zM127 118h4v1h-4zM309 118h3v1h-3zM12 118h3v1h-3zM106 118h5v1h-5zM126 119h5v1h-5zM77 119h33v1h-33zM169 119h17v1h-17zM52 119h10v1h-10zM352 119h9v1h-9zM11 119h7v1h-7zM332 120h2v1h-2zM9 120h17v1h-17zM50 120h12v1h-12zM30 120h12v1h-12zM124 120h8v1h-8zM168 120h18v1h-18zM77 120h32v1h-32zM5 121h40v1h-40zM47 121h17v1h-17zM331 121h4v1h-4zM168 121h17v1h-17zM122 121h11v1h-11zM76 121h32v1h-32zM352 120h8v3h-8zM0 122h106v1h-106zM121 122h14v1h-14zM329 122h6v1h-6zM327 123h8v1h-8zM120 123h16v1h-16zM169 122h15v3h-15zM352 123h9v2h-9zM0 123h105v2h-105zM119 124h18v1h-18zM327 124h9v1h-9zM168 125h15v1h-15zM0 125h104v1h-104zM118 125h20v1h-20zM352 125h8v1h-8zM351 126h10v1h-10zM169 126h13v1h-13zM70 126h33v1h-33zM0 126h7v1h-7zM45 126h18v1h-18zM118 126h36v1h-36zM11 126h10v1h-10zM371 126h3v1h-3zM385 126h7v1h-7zM29 126h9v1h-9zM327 125h8v3h-8zM117 127h39v1h-39zM170 127h10v1h-10zM71 127h32v1h-32zM369 127h7v1h-7zM350 127h11v1h-11zM46 127h15v1h-15zM382 127h10v1h-10zM31 127h5v1h-5zM2 127h2v1h-2zM369 128h23v1h-23zM348 128h12v1h-12zM71 128h29v1h-29zM110 128h47v1h-47zM326 128h8v1h-8zM172 128h5v1h-5zM48 128h11v1h-11zM346 129h14v1h-14zM147 129h11v1h-11zM108 129h30v1h-30zM291 129h8v1h-8zM323 129h12v1h-12zM256 129h3v1h-3zM48 129h10v1h-10zM316 129h6v1h-6zM71 129h26v1h-26zM368 129h19v1h-19zM280 130h21v1h-21zM314 130h21v1h-21zM150 130h8v1h-8zM368 130h17v1h-17zM107 130h30v1h-30zM48 130h9v1h-9zM243 130h29v1h-29zM345 130h14v1h-14zM71 130h25v2h-25zM313 131h22v1h-22zM152 131h7v1h-7zM344 131h15v1h-15zM241 131h62v1h-62zM106 131h31v1h-31zM368 131h16v2h-16zM310 132h26v1h-26zM105 132h31v1h-31zM153 132h7v1h-7zM239 132h67v1h-67zM344 132h16v2h-16zM70 132h25v2h-25zM154 133h6v1h-6zM273 133h64v1h-64zM238 133h31v1h-31zM47 131h10v4h-10zM104 133h31v2h-31zM237 134h30v1h-30zM155 134h7v1h-7zM215 134h14v1h-14zM81 134h13v1h-13zM330 134h7v1h-7zM343 134h16v1h-16zM276 134h46v1h-46zM70 134h10v1h-10zM369 133h15v3h-15zM214 135h18v1h-18zM103 135h20v1h-20zM236 135h7v1h-7zM284 135h9v1h-9zM354 135h1v1h-1zM251 135h8v1h-8zM331 135h7v1h-7zM201 135h3v1h-3zM341 135h10v1h-10zM46 135h11v1h-11zM69 135h9v1h-9zM298 135h17v1h-17zM126 135h8v1h-8zM156 135h8v1h-8zM86 135h8v1h-8zM88 136h5v1h-5zM369 136h16v1h-16zM45 136h12v1h-12zM300 136h13v1h-13zM184 136h26v1h-26zM213 136h29v1h-29zM69 136h7v1h-7zM288 136h2v1h-2zM103 136h19v1h-19zM332 136h16v1h-16zM128 136h5v1h-5zM156 136h10v1h-10zM44 137h13v1h-13zM67 137h7v1h-7zM368 137h22v1h-22zM157 137h11v1h-11zM175 137h47v1h-47zM333 137h13v1h-13zM227 137h15v1h-15zM16 137h12v1h-12zM311 137h1v1h-1zM104 137h18v1h-18zM31 137h5v1h-5zM16 138h45v1h-45zM62 138h12v1h-12zM104 138h17v1h-17zM158 138h12v1h-12zM335 138h10v1h-10zM172 138h46v1h-46zM229 138h12v1h-12zM15 139h58v1h-58zM159 139h58v1h-58zM335 139h9v1h-9zM231 139h10v1h-10zM104 139h16v2h-16zM15 140h56v1h-56zM232 140h8v1h-8zM160 140h56v1h-56zM161 141h54v1h-54zM104 141h15v1h-15zM233 141h7v1h-7zM14 141h56v1h-56zM336 140h8v3h-8zM234 142h5v1h-5zM162 142h52v1h-52zM105 142h13v1h-13zM0 142h5v1h-5zM43 142h14v1h-14zM11 142h25v1h-25zM62 142h6v1h-6zM28 143h5v1h-5zM205 143h8v1h-8zM0 143h18v1h-18zM191 143h9v1h-9zM173 143h14v1h-14zM337 143h7v1h-7zM49 143h7v1h-7zM0 144h16v1h-16zM207 144h3v1h-3zM175 144h11v1h-11zM338 144h4v1h-4zM195 144h3v1h-3zM0 145h14v1h-14zM368 138h24v11h-24zM176 145h9v4h-9zM177 149h6v1h-6zM370 149h22v1h-22zM372 150h20v1h-20zM373 151h19v1h-19zM375 152h12v1h-12zM295 166h2v3h-2zM365 168h14v1h-14zM363 169h18v1h-18zM295 169h3v2h-3zM362 170h19v1h-19zM249 170h2v2h-2zM361 171h21v1h-21zM294 171h4v1h-4zM294 172h2v1h-2zM360 172h22v1h-22zM359 173h23v1h-23zM297 172h1v3h-1zM359 174h22v1h-22zM297 175h2v1h-2zM355 175h22v1h-22zM353 176h19v1h-19zM298 176h1v2h-1zM352 177h17v1h-17zM310 177h2v1h-2zM302 177h1v1h-1zM310 178h5v1h-5zM294 173h1v7h-1zM284 178h1v2h-1zM353 178h15v2h-15zM309 179h9v1h-9zM298 178h2v3h-2zM351 180h17v1h-17zM320 180h3v1h-3zM324 180h3v1h-3zM292 180h3v1h-3zM309 180h10v1h-10zM307 181h21v1h-21zM348 181h22v1h-22zM274 181h2v1h-2zM291 181h3v2h-3zM346 182h25v1h-25zM273 182h4v1h-4zM306 182h22v1h-22zM283 180h2v4h-2zM250 183h2v1h-2zM63 183h6v1h-6zM229 183h6v1h-6zM121 183h5v1h-5zM268 183h2v1h-2zM55 183h4v1h-4zM306 183h23v1h-23zM290 183h4v1h-4zM90 183h2v1h-2zM148 183h4v1h-4zM43 183h9v1h-9zM272 183h5v1h-5zM346 183h30v1h-30zM301 178h2v7h-2zM346 184h34v1h-34zM131 184h21v1h-21zM108 184h6v1h-6zM212 184h28v1h-28zM157 184h7v1h-7zM115 184h15v1h-15zM282 184h5v1h-5zM261 184h1v1h-1zM267 184h11v1h-11zM249 184h8v1h-8zM289 184h5v1h-5zM39 184h35v1h-35zM84 184h12v1h-12zM335 184h1v1h-1zM305 184h24v2h-24zM280 185h14v1h-14zM37 185h39v1h-39zM244 185h35v1h-35zM106 185h59v1h-59zM80 185h21v1h-21zM211 185h31v1h-31zM331 185h11v1h-11zM300 185h3v1h-3zM344 185h37v1h-37zM300 186h82v1h-82zM35 186h131v1h-131zM33 187h134v1h-134zM300 187h84v1h-84zM211 186h83v3h-83zM300 188h90v1h-90zM32 188h136v2h-136zM300 189h9v1h-9zM210 189h84v1h-84zM310 189h82v1h-82zM298 181h1v10h-1zM66 190h2v1h-2zM206 190h88v1h-88zM73 190h29v1h-29zM300 190h8v1h-8zM103 190h66v1h-66zM30 190h31v1h-31zM203 191h91v1h-91zM28 191h30v1h-30zM106 191h66v1h-66zM75 191h24v1h-24zM311 190h81v3h-81zM11 192h4v1h-4zM149 192h26v1h-26zM77 192h7v1h-7zM107 192h31v1h-31zM197 192h90v1h-90zM3 192h5v1h-5zM288 192h6v1h-6zM26 192h31v1h-31zM179 192h9v1h-9zM298 191h10v3h-10zM292 193h2v1h-2zM373 193h19v1h-19zM109 193h28v1h-28zM311 193h28v1h-28zM194 193h89v1h-89zM288 193h2v1h-2zM151 193h41v1h-41zM285 193h1v1h-1zM344 193h21v1h-21zM111 194h25v1h-25zM346 194h2v1h-2zM352 194h10v1h-10zM299 194h9v1h-9zM374 194h18v1h-18zM311 194h27v2h-27zM152 194h131v2h-131zM302 195h2v1h-2zM113 195h22v1h-22zM375 195h17v1h-17zM299 195h2v1h-2zM354 195h7v1h-7zM0 193h57v4h-57zM306 195h2v2h-2zM153 196h129v1h-129zM114 196h20v1h-20zM311 196h26v1h-26zM299 196h1v1h-1zM376 196h16v1h-16zM306 197h1v1h-1zM379 197h13v1h-13zM153 197h125v1h-125zM0 197h56v1h-56zM115 197h19v1h-19zM312 197h21v2h-21zM380 198h12v1h-12zM0 198h55v1h-55zM115 198h18v1h-18zM154 198h122v1h-122zM199 199h51v1h-51zM118 199h15v1h-15zM261 199h15v1h-15zM116 199h1v1h-1zM329 199h3v1h-3zM253 199h7v1h-7zM181 199h12v1h-12zM23 199h31v1h-31zM381 199h8v1h-8zM154 199h23v1h-23zM3 199h7v1h-7zM312 199h14v2h-14zM201 200h2v1h-2zM160 200h5v1h-5zM210 200h10v1h-10zM222 200h11v1h-11zM247 200h2v1h-2zM38 200h15v1h-15zM383 200h5v1h-5zM253 200h6v1h-6zM261 200h14v1h-14zM238 200h5v1h-5zM183 200h2v1h-2zM31 200h5v1h-5zM330 200h2v1h-2zM211 201h6v1h-6zM268 201h1v1h-1zM41 201h3v1h-3zM330 201h1v1h-1zM271 201h4v1h-4zM262 201h4v1h-4zM312 201h13v1h-13zM188 200h3v3h-3zM242 201h2v2h-2zM317 202h8v1h-8zM211 202h5v1h-5zM313 202h3v1h-3zM272 202h2v2h-2zM318 203h4v1h-4zM210 203h6v1h-6zM188 203h2v1h-2zM313 203h2v2h-2zM209 204h7v1h-7zM318 204h3v1h-3zM210 205h7v1h-7zM313 205h1v1h-1zM318 205h2v1h-2zM211 206h6v1h-6zM319 206h1v1h-1zM214 208h1v1h-1zM213 209h3v1h-3zM302 209h1v1h-1zM212 210h4v1h-4zM213 211h3v1h-3zM161 222h2v1h-2zM158 223h7v1h-7zM148 223h4v1h-4zM145 224h26v1h-26zM233 225h3v1h-3zM99 225h5v1h-5zM137 225h43v1h-43zM88 226h20v1h-20zM225 226h13v1h-13zM134 226h48v1h-48zM87 227h24v1h-24zM223 227h17v1h-17zM128 227h56v1h-56zM87 228h26v1h-26zM222 228h19v1h-19zM126 228h59v1h-59zM124 229h65v1h-65zM84 229h32v1h-32zM220 229h22v1h-22zM340 230h4v1h-4zM351 230h5v1h-5zM163 230h28v1h-28zM82 230h75v1h-75zM79 231h77v1h-77zM164 231h30v1h-30zM348 231h9v1h-9zM339 231h6v1h-6zM219 230h23v3h-23zM77 232h80v1h-80zM163 232h42v1h-42zM338 232h25v1h-25zM34 232h5v1h-5zM270 232h1v2h-1zM27 233h22v1h-22zM75 233h130v1h-130zM337 233h30v1h-30zM218 233h23v1h-23zM217 234h24v1h-24zM301 234h1v1h-1zM73 234h133v1h-133zM25 234h28v1h-28zM336 234h31v1h-31zM0 234h6v1h-6zM59 234h4v1h-4zM301 235h2v1h-2zM0 235h9v1h-9zM71 235h141v1h-141zM337 235h31v1h-31zM217 235h23v1h-23zM24 235h42v1h-42zM290 235h2v1h-2zM70 236h169v1h-169zM289 236h3v1h-3zM337 236h32v1h-32zM0 236h10v1h-10zM23 236h44v1h-44zM300 236h4v2h-4zM23 237h214v1h-214zM0 237h12v1h-12zM338 237h31v1h-31zM289 237h4v2h-4zM340 238h4v1h-4zM223 238h13v1h-13zM23 238h196v1h-196zM0 238h15v1h-15zM347 238h21v1h-21zM22 239h109v1h-109zM0 239h2v1h-2zM226 239h8v1h-8zM11 239h5v1h-5zM134 239h75v1h-75zM348 239h19v1h-19zM301 238h3v3h-3zM355 240h10v1h-10zM12 240h61v1h-61zM75 240h44v1h-44zM138 240h68v1h-68zM229 240h3v1h-3zM125 240h4v1h-4zM288 239h5v3h-5zM13 241h59v1h-59zM77 241h41v1h-41zM297 241h1v1h-1zM300 241h4v2h-4zM140 241h66v2h-66zM37 242h35v1h-35zM14 242h18v1h-18zM287 242h6v1h-6zM78 242h38v1h-38zM285 243h9v1h-9zM45 243h27v1h-27zM299 243h3v1h-3zM16 243h15v1h-15zM78 243h36v1h-36zM140 243h62v1h-62zM303 243h1v2h-1zM141 244h59v1h-59zM17 244h13v1h-13zM47 244h25v1h-25zM79 244h34v1h-34zM301 244h1v1h-1zM301 245h3v1h-3zM50 245h21v1h-21zM18 245h9v1h-9zM80 245h32v1h-32zM146 245h52v1h-52zM284 244h10v3h-10zM303 246h1v1h-1zM53 246h15v1h-15zM147 246h50v1h-50zM86 246h11v1h-11zM19 246h6v1h-6zM171 247h25v1h-25zM147 247h10v1h-10zM163 247h6v1h-6zM21 247h3v1h-3zM283 247h11v2h-11zM177 248h4v1h-4zM185 248h9v1h-9zM298 244h2v6h-2zM301 246h1v4h-1zM186 249h4v1h-4zM185 250h5v1h-5zM297 250h3v1h-3zM185 251h6v1h-6zM301 250h3v3h-3zM292 249h3v5h-3zM185 252h5v2h-5zM283 249h6v6h-6zM184 254h13v1h-13zM293 254h2v1h-2zM348 254h8v1h-8zM301 253h4v3h-4zM134 255h4v1h-4zM51 255h3v1h-3zM125 255h6v1h-6zM182 255h18v1h-18zM347 255h9v1h-9zM110 255h7v1h-7zM203 255h7v1h-7zM51 256h5v1h-5zM302 256h4v1h-4zM121 256h19v1h-19zM84 256h18v1h-18zM346 256h11v1h-11zM108 256h10v1h-10zM153 256h3v1h-3zM159 256h52v1h-52zM298 251h2v7h-2zM152 257h60v1h-60zM82 257h59v1h-59zM390 257h2v1h-2zM0 257h7v1h-7zM26 257h1v1h-1zM51 257h6v1h-6zM60 257h6v1h-6zM302 257h5v1h-5zM346 257h12v1h-12zM227 257h10v1h-10zM284 255h5v4h-5zM82 258h61v1h-61zM297 258h3v1h-3zM151 258h66v1h-66zM301 258h7v1h-7zM51 258h20v1h-20zM23 258h14v1h-14zM0 258h9v1h-9zM225 258h14v1h-14zM344 258h15v1h-15zM279 258h1v1h-1zM385 258h7v1h-7zM342 259h18v1h-18zM149 259h72v1h-72zM51 259h22v1h-22zM0 259h11v1h-11zM16 259h21v1h-21zM285 259h4v1h-4zM223 259h17v1h-17zM383 259h9v1h-9zM82 259h64v1h-64zM277 259h4v1h-4zM335 259h1v1h-1zM293 255h1v6h-1zM301 259h18v2h-18zM297 259h2v2h-2zM82 260h160v1h-160zM338 260h1v1h-1zM384 260h8v1h-8zM341 260h19v1h-19zM59 260h14v1h-14zM51 260h6v1h-6zM0 260h37v1h-37zM276 260h6v1h-6zM286 260h4v1h-4z"/>
<path fill="#F0FF00" d="M140 0h5v1h-5zM173 0h5v1h-5zM185 0h6v1h-6zM239 0h24v1h-24zM273 0h47v1h-47zM87 0h10v2h-10zM149 0h3v2h-3zM115 0h12v2h-12zM31 0h16v2h-16zM173 1h4v1h-4zM239 1h23v2h-23zM141 1h3v2h-3zM273 1h48v2h-48zM87 2h11v1h-11zM14 0h4v4h-4zM209 0h15v4h-15zM186 1h5v3h-5zM31 2h15v2h-15zM115 2h13v2h-13zM174 2h4v2h-4zM95 3h3v1h-3zM272 3h49v1h-49zM88 3h6v1h-6zM240 3h23v1h-23zM141 3h4v1h-4zM150 2h2v3h-2zM114 4h14v1h-14zM208 4h15v1h-15zM185 4h6v1h-6zM88 4h5v1h-5zM246 4h17v1h-17zM142 4h3v1h-3zM272 4h50v1h-50zM14 4h3v2h-3zM32 4h14v2h-14zM247 5h17v1h-17zM207 5h16v1h-16zM185 5h7v1h-7zM114 5h13v1h-13zM271 5h51v1h-51zM175 4h3v3h-3zM89 5h4v2h-4zM151 5h2v2h-2zM185 6h10v1h-10zM114 6h12v1h-12zM13 6h4v1h-4zM205 6h16v1h-16zM33 6h13v1h-13zM247 6h18v1h-18zM270 6h53v1h-53zM96 4h2v4h-2zM152 7h2v1h-2zM247 7h19v1h-19zM34 7h12v1h-12zM269 7h7v1h-7zM214 7h5v1h-5zM282 7h41v1h-41zM175 7h4v1h-4zM186 7h26v1h-26zM114 7h10v1h-10zM241 4h4v5h-4zM142 5h2v4h-2zM283 8h41v1h-41zM248 8h6v1h-6zM185 8h25v1h-25zM35 8h10v1h-10zM260 8h15v1h-15zM153 8h2v1h-2zM176 8h4v1h-4zM89 7h3v3h-3zM153 9h3v1h-3zM284 9h42v1h-42zM183 9h24v1h-24zM176 9h5v1h-5zM262 9h12v1h-12zM37 9h8v1h-8zM114 8h9v3h-9zM143 9h1v2h-1zM285 10h41v1h-41zM90 10h2v1h-2zM41 10h4v1h-4zM263 10h10v1h-10zM176 10h18v1h-18zM154 10h2v1h-2zM248 9h7v3h-7zM264 11h9v1h-9zM177 11h16v1h-16zM287 11h40v1h-40zM154 11h3v1h-3zM90 11h3v1h-3zM114 11h8v1h-8zM96 8h1v5h-1zM42 11h4v2h-4zM288 12h40v1h-40zM177 12h15v1h-15zM155 12h2v1h-2zM114 12h7v1h-7zM265 12h7v1h-7zM91 12h2v1h-2zM249 12h5v1h-5zM289 13h41v1h-41zM266 13h5v1h-5zM156 13h1v1h-1zM179 13h13v1h-13zM91 13h6v1h-6zM115 13h5v1h-5zM13 7h3v8h-3zM242 9h3v6h-3zM143 11h2v4h-2zM43 13h3v2h-3zM249 13h6v2h-6zM267 14h3v1h-3zM291 14h41v1h-41zM183 14h8v1h-8zM117 14h2v1h-2zM157 14h1v1h-1zM91 14h5v2h-5zM157 15h2v1h-2zM143 15h3v1h-3zM292 15h40v1h-40zM249 15h7v1h-7zM185 15h6v2h-6zM44 15h3v2h-3zM294 16h22v1h-22zM318 16h15v1h-15zM143 16h4v1h-4zM92 16h4v1h-4zM249 16h8v1h-8zM271 16h5v1h-5zM157 16h3v1h-3zM296 17h17v1h-17zM252 17h5v1h-5zM144 17h4v1h-4zM45 17h3v1h-3zM14 15h2v4h-2zM270 17h8v2h-8zM319 17h14v2h-14zM45 18h4v1h-4zM145 18h4v1h-4zM253 18h5v1h-5zM158 17h3v3h-3zM186 17h4v3h-4zM320 19h13v1h-13zM145 19h5v1h-5zM254 19h4v1h-4zM271 19h8v1h-8zM46 19h4v1h-4zM242 15h4v6h-4zM255 20h3v1h-3zM47 20h4v1h-4zM145 20h6v1h-6zM187 20h3v1h-3zM272 20h8v1h-8zM296 18h15v4h-15zM320 20h14v2h-14zM144 21h7v1h-7zM47 21h5v1h-5zM67 21h2v1h-2zM272 21h9v1h-9zM223 21h3v1h-3zM13 19h3v4h-3zM256 21h3v2h-3zM242 21h3v2h-3zM141 22h10v1h-10zM272 22h10v1h-10zM222 22h6v1h-6zM64 22h6v1h-6zM297 22h14v1h-14zM49 22h5v1h-5zM319 22h15v2h-15zM13 23h2v1h-2zM221 23h8v1h-8zM63 23h12v1h-12zM241 23h4v1h-4zM272 23h11v1h-11zM139 23h12v1h-12zM51 23h5v1h-5zM298 23h13v2h-13zM62 24h4v1h-4zM221 24h10v1h-10zM241 24h3v1h-3zM272 24h12v1h-12zM138 24h13v1h-13zM71 24h4v1h-4zM53 24h4v1h-4zM257 23h2v3h-2zM12 24h3v2h-3zM240 25h4v1h-4zM220 25h12v1h-12zM54 25h4v1h-4zM297 25h14v1h-14zM272 25h13v1h-13zM61 25h4v1h-4zM72 25h4v1h-4zM159 20h3v7h-3zM229 26h6v1h-6zM272 26h14v1h-14zM219 26h4v1h-4zM258 26h2v1h-2zM73 26h4v1h-4zM239 26h4v1h-4zM56 26h8v1h-8zM320 24h14v4h-14zM137 25h14v3h-14zM11 26h3v2h-3zM159 27h4v1h-4zM218 27h4v1h-4zM57 27h6v1h-6zM230 27h12v1h-12zM259 27h2v1h-2zM74 27h4v1h-4zM272 27h15v1h-15zM319 28h15v1h-15zM260 28h3v1h-3zM217 28h4v1h-4zM75 28h6v1h-6zM59 28h2v1h-2zM136 28h17v1h-17zM159 28h3v1h-3zM10 28h3v1h-3zM233 28h8v1h-8zM271 28h16v1h-16zM186 21h3v9h-3zM77 29h7v1h-7zM137 29h9v1h-9zM149 29h5v1h-5zM261 29h5v1h-5zM9 29h4v1h-4zM270 29h18v1h-18zM217 29h3v1h-3zM158 29h4v1h-4zM296 26h15v5h-15zM263 30h27v1h-27zM216 30h3v1h-3zM8 30h5v1h-5zM79 30h7v1h-7zM187 30h3v1h-3zM137 30h7v1h-7zM151 30h11v1h-11zM319 29h14v3h-14zM214 31h4v1h-4zM266 31h46v1h-46zM7 31h5v1h-5zM138 31h6v1h-6zM187 31h4v1h-4zM152 31h10v1h-10zM83 31h5v1h-5zM138 32h5v1h-5zM0 32h11v1h-11zM188 32h5v1h-5zM85 32h4v1h-4zM153 32h9v1h-9zM268 32h45v1h-45zM317 32h15v1h-15zM213 32h3v1h-3zM86 33h4v1h-4zM190 33h7v1h-7zM0 33h10v1h-10zM211 33h4v1h-4zM154 33h7v1h-7zM139 33h3v1h-3zM278 33h53v2h-53zM140 34h1v1h-1zM87 34h4v1h-4zM0 34h9v1h-9zM156 34h5v1h-5zM208 34h5v1h-5zM193 34h7v1h-7zM89 35h3v1h-3zM279 35h51v1h-51zM198 35h13v1h-13zM280 36h49v1h-49zM90 36h6v1h-6zM200 36h7v1h-7zM92 37h9v1h-9zM281 37h46v1h-46zM385 37h7v1h-7zM383 38h9v1h-9zM283 38h42v1h-42zM95 38h10v1h-10zM381 39h6v1h-6zM287 39h19v1h-19zM311 39h4v1h-4zM176 39h6v1h-6zM318 39h6v1h-6zM391 39h1v1h-1zM98 39h9v1h-9zM320 40h4v1h-4zM301 40h3v1h-3zM379 40h6v1h-6zM104 40h4v1h-4zM174 40h9v1h-9zM173 41h10v1h-10zM106 41h3v1h-3zM375 41h8v1h-8zM180 42h3v1h-3zM372 42h8v1h-8zM107 42h3v1h-3zM171 42h6v1h-6zM368 43h9v1h-9zM109 43h3v1h-3zM167 43h9v1h-9zM110 44h3v1h-3zM366 44h8v1h-8zM167 44h8v1h-8zM167 45h7v1h-7zM111 45h3v1h-3zM364 45h7v1h-7zM113 46h3v1h-3zM358 46h11v1h-11zM181 43h2v5h-2zM167 46h6v2h-6zM355 47h13v1h-13zM114 47h4v1h-4zM167 48h7v1h-7zM180 48h3v1h-3zM116 48h3v1h-3zM352 48h14v1h-14zM349 49h5v1h-5zM341 49h1v1h-1zM117 49h4v1h-4zM180 49h2v1h-2zM168 49h6v1h-6zM179 50h3v1h-3zM119 50h3v1h-3zM168 50h7v1h-7zM339 50h12v1h-12zM121 51h3v1h-3zM337 51h11v1h-11zM169 51h13v1h-13zM335 52h9v1h-9zM123 52h3v1h-3zM170 52h11v1h-11zM332 53h8v1h-8zM172 53h7v1h-7zM125 53h2v1h-2zM174 54h1v1h-1zM126 54h3v1h-3zM329 54h10v1h-10zM127 55h3v1h-3zM327 55h10v1h-10zM325 56h9v1h-9zM129 56h3v1h-3zM130 57h3v1h-3zM322 57h9v1h-9zM132 58h3v1h-3zM320 58h9v1h-9zM133 59h3v1h-3zM319 59h9v1h-9zM319 60h8v1h-8zM134 60h4v1h-4zM135 61h6v1h-6zM319 61h7v1h-7zM137 62h8v1h-8zM318 62h7v1h-7zM141 63h6v1h-6zM318 63h6v1h-6zM144 64h5v1h-5zM51 64h1v1h-1zM319 64h4v1h-4zM146 65h6v1h-6zM46 65h10v1h-10zM318 65h5v2h-5zM44 66h15v1h-15zM147 66h8v1h-8zM151 67h6v1h-6zM55 67h24v1h-24zM41 67h8v1h-8zM154 68h5v1h-5zM57 68h24v1h-24zM40 68h7v1h-7zM318 67h4v3h-4zM156 69h4v1h-4zM39 69h7v1h-7zM77 69h17v1h-17zM157 70h5v1h-5zM38 70h7v1h-7zM79 70h18v1h-18zM104 71h10v1h-10zM81 71h4v1h-4zM94 71h6v1h-6zM158 71h4v1h-4zM38 71h8v2h-8zM97 72h20v1h-20zM317 70h5v4h-5zM203 73h6v1h-6zM98 73h8v1h-8zM113 73h9v1h-9zM38 73h9v2h-9zM100 74h3v1h-3zM115 74h10v1h-10zM202 74h10v1h-10zM315 74h7v1h-7zM159 72h4v4h-4zM38 75h10v1h-10zM305 75h17v1h-17zM119 75h7v1h-7zM202 75h14v1h-14zM304 76h18v1h-18zM122 76h4v1h-4zM201 76h17v1h-17zM38 76h11v1h-11zM158 76h4v1h-4zM157 77h5v1h-5zM38 77h12v1h-12zM124 77h3v1h-3zM303 77h19v1h-19zM201 77h19v1h-19zM200 78h22v1h-22zM157 78h4v1h-4zM315 78h7v1h-7zM38 78h13v1h-13zM291 78h17v1h-17zM125 78h3v1h-3zM320 79h2v1h-2zM220 79h5v1h-5zM46 79h6v1h-6zM126 79h3v1h-3zM199 79h11v1h-11zM157 79h3v1h-3zM290 79h18v2h-18zM47 80h5v1h-5zM127 80h3v1h-3zM156 80h4v1h-4zM321 80h2v1h-2zM37 80h2v1h-2zM199 80h9v1h-9zM224 80h4v1h-4zM128 81h4v1h-4zM322 81h1v1h-1zM227 81h3v1h-3zM289 81h20v1h-20zM48 81h4v1h-4zM35 81h6v2h-6zM199 81h8v2h-8zM156 81h3v2h-3zM346 82h4v1h-4zM289 82h21v1h-21zM129 82h4v1h-4zM322 82h3v1h-3zM229 82h2v1h-2zM49 82h4v2h-4zM230 83h2v1h-2zM130 83h3v1h-3zM321 83h7v1h-7zM344 83h6v1h-6zM199 83h9v1h-9zM155 83h3v1h-3zM289 83h22v1h-22zM34 83h7v2h-7zM343 84h8v1h-8zM231 84h1v1h-1zM199 84h10v1h-10zM289 84h23v1h-23zM154 84h3v1h-3zM131 84h3v1h-3zM49 84h5v1h-5zM320 84h9v1h-9zM49 85h7v1h-7zM320 85h11v1h-11zM152 85h4v1h-4zM131 85h4v1h-4zM339 85h12v1h-12zM201 85h9v1h-9zM290 85h23v1h-23zM258 85h3v1h-3zM33 85h8v1h-8zM232 85h1v2h-1zM258 86h5v1h-5zM202 86h9v1h-9zM48 86h10v1h-10zM142 86h13v1h-13zM130 86h9v1h-9zM33 86h11v1h-11zM291 86h11v1h-11zM318 86h33v1h-33zM310 86h4v1h-4zM311 87h13v1h-13zM325 87h27v1h-27zM293 87h8v1h-8zM204 87h8v1h-8zM232 87h2v1h-2zM257 87h7v1h-7zM33 87h26v1h-26zM129 87h22v1h-22zM127 88h8v1h-8zM233 88h1v1h-1zM344 88h9v1h-9zM206 88h7v1h-7zM312 88h11v1h-11zM257 88h9v1h-9zM327 88h2v1h-2zM294 88h5v1h-5zM54 88h8v1h-8zM32 88h19v2h-19zM110 89h23v1h-23zM295 89h3v1h-3zM233 89h2v1h-2zM313 89h9v1h-9zM345 89h9v1h-9zM207 89h6v1h-6zM167 89h26v1h-26zM256 89h12v1h-12zM57 89h11v1h-11zM234 90h2v1h-2zM346 90h11v1h-11zM30 90h10v1h-10zM208 90h6v1h-6zM314 90h6v1h-6zM100 90h16v1h-16zM22 90h5v1h-5zM256 90h13v1h-13zM164 90h33v1h-33zM370 90h1v1h-1zM121 90h12v1h-12zM60 90h18v1h-18zM46 90h4v2h-4zM191 91h7v1h-7zM256 91h14v1h-14zM163 91h4v1h-4zM209 91h7v1h-7zM18 91h21v1h-21zM128 91h5v1h-5zM346 91h30v1h-30zM234 91h3v1h-3zM96 91h17v1h-17zM62 91h18v1h-18zM194 92h6v1h-6zM346 92h31v1h-31zM162 92h3v1h-3zM130 92h3v1h-3zM211 92h7v1h-7zM235 92h5v1h-5zM64 92h17v1h-17zM256 92h15v1h-15zM15 92h23v1h-23zM95 92h17v1h-17zM47 92h3v2h-3zM0 93h18v1h-18zM196 93h5v1h-5zM212 93h8v1h-8zM28 93h9v1h-9zM257 93h16v1h-16zM346 93h32v1h-32zM235 93h9v1h-9zM66 93h16v1h-16zM91 93h19v1h-19zM161 93h3v1h-3zM89 94h13v1h-13zM160 94h2v1h-2zM361 94h4v1h-4zM0 94h15v1h-15zM67 94h4v1h-4zM78 94h5v1h-5zM237 94h13v1h-13zM346 94h10v1h-10zM258 94h17v1h-17zM374 94h6v1h-6zM198 94h4v1h-4zM105 94h2v1h-2zM214 94h9v1h-9zM30 94h6v1h-6zM47 94h4v2h-4zM346 95h9v1h-9zM159 95h2v1h-2zM199 95h3v1h-3zM215 95h11v1h-11zM243 95h9v1h-9zM79 95h5v1h-5zM87 95h11v1h-11zM375 95h8v1h-8zM261 95h15v1h-15zM80 96h15v1h-15zM390 96h2v1h-2zM246 96h7v1h-7zM346 96h6v1h-6zM200 96h3v1h-3zM218 96h16v1h-16zM262 96h14v1h-14zM158 96h2v1h-2zM376 96h11v1h-11zM48 96h4v2h-4zM81 97h11v1h-11zM263 97h14v1h-14zM247 97h6v1h-6zM223 97h11v1h-11zM157 97h2v1h-2zM201 97h2v1h-2zM291 97h2v1h-2zM377 97h15v1h-15zM156 98h2v1h-2zM289 98h6v1h-6zM385 98h7v1h-7zM229 98h5v1h-5zM82 98h9v1h-9zM248 98h5v1h-5zM47 98h6v1h-6zM264 98h14v1h-14zM201 98h4v1h-4zM131 93h2v7h-2zM264 99h15v1h-15zM202 99h4v1h-4zM289 99h7v1h-7zM250 99h4v1h-4zM46 99h8v1h-8zM154 99h4v1h-4zM82 99h8v1h-8zM230 99h4v2h-4zM288 100h9v1h-9zM251 100h4v1h-4zM46 100h11v1h-11zM82 100h7v1h-7zM203 100h5v1h-5zM130 100h4v1h-4zM264 100h16v1h-16zM152 100h5v1h-5zM231 101h3v1h-3zM148 101h8v1h-8zM264 101h17v1h-17zM46 101h15v1h-15zM252 101h4v1h-4zM288 101h10v1h-10zM82 101h6v1h-6zM130 101h17v1h-17zM205 101h4v1h-4zM252 102h5v1h-5zM288 102h11v1h-11zM263 102h18v1h-18zM53 102h10v1h-10zM82 102h5v1h-5zM130 102h24v1h-24zM206 102h5v1h-5zM231 102h4v2h-4zM129 103h9v1h-9zM253 103h28v1h-28zM287 103h14v1h-14zM56 103h9v1h-9zM144 103h8v1h-8zM207 103h8v1h-8zM81 103h6v2h-6zM254 104h48v1h-48zM58 104h8v1h-8zM128 104h9v1h-9zM230 104h5v1h-5zM208 104h9v1h-9zM60 105h7v1h-7zM79 105h8v1h-8zM126 105h10v1h-10zM210 105h8v1h-8zM257 105h46v1h-46zM227 105h7v1h-7zM315 106h2v1h-2zM212 106h8v1h-8zM223 106h10v1h-10zM62 106h7v1h-7zM125 106h10v1h-10zM76 106h11v1h-11zM260 106h43v1h-43zM63 107h25v1h-25zM312 107h9v1h-9zM122 107h12v1h-12zM262 107h41v1h-41zM215 107h17v1h-17zM119 108h14v1h-14zM264 108h39v1h-39zM65 108h24v1h-24zM217 108h14v1h-14zM312 108h10v2h-10zM267 109h36v1h-36zM220 109h10v1h-10zM80 109h10v1h-10zM115 109h8v1h-8zM129 109h4v2h-4zM112 110h7v1h-7zM269 110h34v1h-34zM224 110h5v1h-5zM312 110h11v1h-11zM81 110h12v1h-12zM312 111h12v1h-12zM271 111h11v1h-11zM285 111h17v1h-17zM327 111h7v1h-7zM82 111h15v1h-15zM111 111h5v1h-5zM286 112h16v1h-16zM84 112h17v1h-17zM109 112h5v1h-5zM273 112h4v1h-4zM313 112h22v2h-22zM92 113h11v1h-11zM107 113h6v1h-6zM287 113h15v2h-15zM172 114h21v1h-21zM313 114h23v1h-23zM95 114h16v1h-16zM169 115h24v1h-24zM96 115h14v1h-14zM287 115h16v1h-16zM130 111h3v6h-3zM288 116h16v1h-16zM97 116h13v1h-13zM167 116h26v1h-26zM313 115h24v3h-24zM165 117h7v1h-7zM288 117h18v1h-18zM97 117h11v1h-11zM130 117h4v1h-4zM175 117h17v1h-17zM312 118h25v1h-25zM185 118h7v1h-7zM180 118h1v1h-1zM289 118h20v1h-20zM131 118h3v1h-3zM100 118h6v1h-6zM164 118h6v1h-6zM303 119h49v1h-49zM162 119h7v1h-7zM131 119h4v1h-4zM289 119h9v1h-9zM186 119h6v2h-6zM132 120h4v1h-4zM334 120h18v1h-18zM160 120h8v1h-8zM306 120h26v1h-26zM288 120h9v2h-9zM133 121h4v1h-4zM185 121h7v1h-7zM159 121h9v1h-9zM308 121h23v1h-23zM310 122h19v1h-19zM287 122h10v1h-10zM154 122h15v1h-15zM135 122h4v1h-4zM184 122h7v1h-7zM335 121h17v3h-17zM136 123h33v1h-33zM184 123h8v2h-8zM286 123h11v2h-11zM137 124h32v1h-32zM336 124h16v1h-16zM247 125h4v1h-4zM335 125h17v1h-17zM285 125h12v1h-12zM138 125h30v1h-30zM256 125h2v1h-2zM183 125h10v1h-10zM311 123h16v4h-16zM243 126h17v1h-17zM182 126h11v1h-11zM154 126h15v1h-15zM63 126h7v1h-7zM21 126h8v1h-8zM284 126h15v1h-15zM206 126h4v1h-4zM38 126h7v1h-7zM7 126h4v1h-4zM335 126h16v1h-16zM310 127h17v1h-17zM281 127h20v1h-20zM0 127h2v1h-2zM335 127h15v1h-15zM61 127h10v1h-10zM240 127h23v1h-23zM36 127h10v1h-10zM180 127h16v1h-16zM156 127h14v1h-14zM204 127h7v1h-7zM4 127h27v1h-27zM334 128h14v1h-14zM59 128h12v1h-12zM310 128h16v1h-16zM157 128h15v1h-15zM177 128h36v1h-36zM276 128h28v1h-28zM236 128h32v1h-32zM335 129h11v1h-11zM58 129h13v1h-13zM322 129h1v1h-1zM231 129h25v1h-25zM299 129h17v1h-17zM158 129h64v1h-64zM387 129h5v1h-5zM259 129h32v1h-32zM0 128h48v3h-48zM301 130h13v1h-13zM158 130h85v1h-85zM385 130h7v1h-7zM335 130h10v1h-10zM272 130h8v1h-8zM57 130h14v2h-14zM159 131h82v1h-82zM335 131h9v1h-9zM303 131h10v1h-10zM336 132h8v1h-8zM160 132h79v1h-79zM306 132h4v1h-4zM160 133h78v1h-78zM337 133h7v1h-7zM0 131h47v4h-47zM57 132h13v3h-13zM337 134h6v1h-6zM162 134h53v1h-53zM229 134h8v1h-8zM384 131h8v5h-8zM338 135h3v1h-3zM0 135h46v1h-46zM232 135h4v1h-4zM204 135h10v1h-10zM164 135h37v1h-37zM57 135h12v2h-12zM166 136h18v1h-18zM385 136h7v1h-7zM0 136h45v1h-45zM210 136h3v1h-3zM28 137h3v1h-3zM57 137h10v1h-10zM168 137h7v1h-7zM36 137h8v1h-8zM390 137h2v1h-2zM0 137h16v2h-16zM61 138h1v1h-1zM170 138h2v1h-2zM0 139h15v2h-15zM0 141h14v1h-14zM5 142h6v1h-6zM296 172h1v1h-1zM295 173h2v3h-2zM295 176h3v5h-3zM309 189h1v1h-1zM102 190h1v1h-1zM61 190h5v1h-5zM68 190h5v1h-5zM99 191h7v1h-7zM58 191h17v1h-17zM138 192h11v1h-11zM287 192h1v1h-1zM84 192h23v1h-23zM57 192h20v1h-20zM294 181h4v13h-4zM290 193h2v1h-2zM57 193h52v1h-52zM365 193h8v1h-8zM286 193h2v1h-2zM137 193h14v1h-14zM339 193h5v1h-5zM283 193h2v1h-2zM57 194h54v1h-54zM338 194h8v1h-8zM348 194h4v1h-4zM136 194h16v1h-16zM362 194h12v1h-12zM283 194h16v2h-16zM304 195h2v1h-2zM301 195h1v1h-1zM361 195h14v1h-14zM135 195h17v1h-17zM338 195h16v1h-16zM57 195h56v1h-56zM308 190h3v7h-3zM300 196h6v1h-6zM297 196h2v1h-2zM282 196h14v1h-14zM57 196h57v1h-57zM337 196h39v1h-39zM134 196h19v2h-19zM333 197h46v1h-46zM278 197h17v1h-17zM56 197h59v1h-59zM297 197h9v1h-9zM307 197h5v1h-5zM55 198h60v1h-60zM333 198h47v1h-47zM276 198h19v1h-19zM133 198h21v2h-21zM297 198h15v2h-15zM117 199h1v1h-1zM260 199h1v1h-1zM250 199h3v1h-3zM10 199h13v1h-13zM54 199h62v1h-62zM193 199h6v1h-6zM332 199h49v1h-49zM326 199h3v1h-3zM389 199h3v1h-3zM276 199h10v1h-10zM0 199h3v1h-3zM177 199h4v1h-4zM288 199h7v1h-7zM326 200h4v1h-4zM0 200h31v1h-31zM165 200h18v1h-18zM185 200h3v1h-3zM275 200h11v1h-11zM36 200h2v1h-2zM233 200h5v1h-5zM289 200h6v1h-6zM249 200h4v1h-4zM53 200h107v1h-107zM203 200h7v1h-7zM332 200h51v1h-51zM191 200h10v1h-10zM259 200h2v1h-2zM220 200h2v1h-2zM388 200h4v1h-4zM243 200h4v1h-4zM298 200h14v2h-14zM331 201h31v1h-31zM275 201h10v1h-10zM44 201h144v1h-144zM0 201h41v1h-41zM244 201h18v1h-18zM291 201h4v1h-4zM269 201h2v1h-2zM217 201h25v1h-25zM325 201h5v1h-5zM266 201h2v1h-2zM191 201h20v2h-20zM291 202h3v1h-3zM244 202h28v1h-28zM274 202h5v1h-5zM316 202h1v1h-1zM216 202h26v1h-26zM84 202h104v1h-104zM325 202h29v1h-29zM367 201h25v3h-25zM0 202h78v2h-78zM322 203h26v1h-26zM216 203h56v1h-56zM83 203h105v1h-105zM190 203h20v1h-20zM274 203h3v1h-3zM351 203h3v1h-3zM315 203h3v2h-3zM335 204h11v1h-11zM0 204h79v1h-79zM83 204h126v1h-126zM352 204h1v1h-1zM216 204h59v1h-59zM321 204h12v1h-12zM298 202h15v4h-15zM368 204h24v2h-24zM0 205h210v1h-210zM314 205h4v1h-4zM217 205h58v1h-58zM320 205h7v1h-7zM330 205h2v2h-2zM0 206h81v1h-81zM217 206h57v1h-57zM320 206h6v1h-6zM138 206h73v1h-73zM367 206h25v1h-25zM298 206h21v1h-21zM84 206h51v1h-51zM87 207h4v1h-4zM139 207h130v1h-130zM367 207h21v1h-21zM298 207h28v1h-28zM4 207h28v1h-28zM40 207h34v1h-34zM95 207h33v1h-33zM78 207h2v1h-2zM271 207h3v1h-3zM57 208h6v1h-6zM20 208h5v1h-5zM7 208h5v1h-5zM65 208h7v1h-7zM215 208h53v1h-53zM368 208h19v1h-19zM141 208h73v1h-73zM96 208h31v1h-31zM298 208h27v1h-27zM312 209h3v1h-3zM97 209h5v1h-5zM216 209h16v1h-16zM318 209h5v1h-5zM368 209h16v1h-16zM106 209h9v1h-9zM233 209h34v1h-34zM303 209h5v1h-5zM142 209h71v1h-71zM118 209h8v1h-8zM299 209h3v1h-3zM118 210h5v1h-5zM319 210h1v1h-1zM108 210h7v1h-7zM143 210h69v1h-69zM299 210h8v1h-8zM292 203h2v9h-2zM232 210h35v2h-35zM313 210h1v2h-1zM216 210h15v2h-15zM119 211h1v1h-1zM143 211h70v1h-70zM110 211h4v1h-4zM90 211h1v1h-1zM299 211h7v2h-7zM185 212h45v1h-45zM265 212h1v1h-1zM291 212h3v1h-3zM88 212h4v1h-4zM237 212h24v1h-24zM145 212h37v1h-37zM368 210h15v4h-15zM238 213h21v1h-21zM147 213h34v1h-34zM292 213h1v1h-1zM87 213h5v1h-5zM300 213h5v1h-5zM187 213h41v1h-41zM189 214h3v1h-3zM253 214h4v1h-4zM88 214h4v1h-4zM374 214h9v1h-9zM301 214h4v1h-4zM196 214h31v1h-31zM240 214h12v1h-12zM148 214h27v1h-27zM272 208h2v8h-2zM255 215h1v1h-1zM147 215h27v1h-27zM301 215h3v1h-3zM240 215h11v2h-11zM197 215h29v2h-29zM180 216h3v1h-3zM141 216h33v1h-33zM92 216h2v2h-2zM198 217h27v1h-27zM240 217h12v1h-12zM139 217h36v1h-36zM179 217h4v1h-4zM137 218h46v1h-46zM234 218h19v1h-19zM92 218h3v1h-3zM198 218h28v1h-28zM199 219h28v1h-28zM248 219h8v1h-8zM91 219h4v1h-4zM135 219h50v1h-50zM233 219h12v1h-12zM134 220h52v1h-52zM200 220h28v1h-28zM89 220h7v1h-7zM232 220h25v1h-25zM273 216h1v6h-1zM200 221h63v1h-63zM87 221h11v1h-11zM132 221h55v1h-55zM201 222h65v1h-65zM126 222h35v1h-35zM272 222h3v1h-3zM86 222h22v1h-22zM163 222h25v1h-25zM269 223h6v1h-6zM152 223h6v1h-6zM200 223h67v1h-67zM192 223h4v1h-4zM85 223h29v1h-29zM165 223h23v1h-23zM370 223h1v1h-1zM124 223h24v1h-24zM171 224h96v1h-96zM84 224h35v1h-35zM367 224h6v1h-6zM347 224h2v1h-2zM121 224h24v1h-24zM268 224h7v1h-7zM352 224h5v1h-5zM236 225h40v1h-40zM332 225h41v1h-41zM83 225h16v1h-16zM104 225h33v1h-33zM180 225h53v1h-53zM66 226h22v1h-22zM108 226h26v1h-26zM182 226h43v1h-43zM29 226h7v1h-7zM332 226h42v1h-42zM238 226h39v1h-39zM240 227h37v1h-37zM332 227h43v1h-43zM184 227h39v1h-39zM111 227h17v1h-17zM325 227h2v1h-2zM300 227h1v1h-1zM63 227h24v1h-24zM26 227h15v1h-15zM325 228h3v1h-3zM61 228h26v1h-26zM290 228h2v1h-2zM241 228h36v1h-36zM332 228h45v1h-45zM185 228h37v1h-37zM22 228h22v1h-22zM113 228h13v1h-13zM300 228h2v1h-2zM289 229h4v1h-4zM59 229h25v1h-25zM189 229h31v1h-31zM300 229h3v1h-3zM21 229h34v1h-34zM116 229h8v1h-8zM242 229h35v1h-35zM324 229h5v1h-5zM332 229h48v1h-48zM344 230h7v1h-7zM316 230h2v1h-2zM356 230h26v1h-26zM191 230h28v1h-28zM300 230h5v1h-5zM19 230h63v1h-63zM6 230h3v1h-3zM0 230h3v1h-3zM323 230h17v1h-17zM12 230h4v1h-4zM242 230h36v2h-36zM300 231h6v1h-6zM357 231h27v1h-27zM323 231h16v1h-16zM194 231h25v1h-25zM0 231h79v1h-79zM313 231h5v1h-5zM345 231h3v1h-3zM389 231h3v1h-3zM280 231h1v1h-1zM310 231h2v1h-2zM289 230h5v3h-5zM242 232h28v1h-28zM205 232h14v1h-14zM39 232h38v1h-38zM280 232h2v1h-2zM299 232h19v1h-19zM322 232h16v1h-16zM0 232h34v1h-34zM363 232h29v1h-29zM271 232h7v2h-7zM321 233h16v1h-16zM241 233h29v1h-29zM299 233h20v1h-20zM49 233h26v1h-26zM205 233h13v1h-13zM279 233h3v1h-3zM0 233h27v1h-27zM367 233h25v2h-25zM288 233h5v2h-5zM302 234h34v1h-34zM241 234h41v1h-41zM63 234h10v1h-10zM53 234h6v1h-6zM6 234h19v1h-19zM206 234h11v1h-11zM299 234h2v2h-2zM288 235h2v1h-2zM9 235h15v1h-15zM303 235h34v1h-34zM240 235h42v1h-42zM368 235h24v1h-24zM212 235h5v1h-5zM292 235h1v1h-1zM66 235h5v1h-5zM10 236h13v1h-13zM287 236h2v1h-2zM239 236h43v1h-43zM67 236h3v1h-3zM304 236h33v1h-33zM292 236h2v1h-2zM299 236h1v2h-1zM369 236h23v2h-23zM237 237h45v1h-45zM285 237h4v1h-4zM12 237h11v1h-11zM304 237h34v1h-34zM344 238h3v1h-3zM304 238h36v1h-36zM368 238h24v1h-24zM219 238h4v1h-4zM236 238h30v1h-30zM15 238h8v1h-8zM284 238h5v1h-5zM267 238h16v2h-16zM16 239h6v1h-6zM304 239h27v1h-27zM2 239h9v1h-9zM332 239h16v1h-16zM284 239h4v1h-4zM234 239h32v1h-32zM209 239h17v1h-17zM367 239h25v1h-25zM131 239h3v1h-3zM299 238h2v3h-2zM268 240h20v1h-20zM129 240h9v1h-9zM333 240h22v1h-22zM232 240h33v1h-33zM73 240h2v1h-2zM304 240h26v1h-26zM0 240h12v1h-12zM206 240h23v1h-23zM119 240h6v1h-6zM365 240h27v1h-27zM320 241h2v1h-2zM304 241h7v1h-7zM0 241h13v1h-13zM268 241h4v1h-4zM324 241h6v1h-6zM333 241h59v1h-59zM274 241h14v1h-14zM118 241h22v1h-22zM72 241h5v1h-5zM299 241h1v1h-1zM313 241h6v1h-6zM293 237h1v6h-1zM206 241h58v2h-58zM316 242h2v1h-2zM298 242h2v1h-2zM116 242h24v1h-24zM325 242h4v1h-4zM268 242h3v1h-3zM32 242h5v1h-5zM274 242h13v1h-13zM0 242h14v1h-14zM72 242h6v2h-6zM304 242h6v2h-6zM0 243h16v1h-16zM202 243h62v1h-62zM275 243h10v1h-10zM31 243h14v1h-14zM326 243h3v1h-3zM298 243h1v1h-1zM114 243h26v1h-26zM334 242h58v3h-58zM268 243h2v2h-2zM200 244h64v1h-64zM113 244h28v1h-28zM0 244h17v1h-17zM72 244h7v1h-7zM30 244h17v1h-17zM307 244h3v2h-3zM275 244h9v2h-9zM0 245h18v1h-18zM71 245h9v1h-9zM27 245h23v1h-23zM198 245h66v1h-66zM268 245h1v1h-1zM112 245h34v1h-34zM327 244h2v3h-2zM25 246h28v1h-28zM307 246h2v1h-2zM0 246h19v1h-19zM197 246h67v1h-67zM276 246h8v1h-8zM97 246h50v1h-50zM68 246h18v1h-18zM333 245h59v3h-59zM169 247h2v1h-2zM327 247h3v1h-3zM157 247h6v1h-6zM196 247h68v1h-68zM24 247h123v1h-123zM0 247h21v1h-21zM304 244h2v5h-2zM294 245h1v4h-1zM276 247h7v2h-7zM307 247h1v2h-1zM181 248h4v1h-4zM0 248h177v1h-177zM194 248h70v1h-70zM327 248h65v1h-65zM0 249h186v1h-186zM275 249h8v1h-8zM190 249h74v2h-74zM304 249h7v2h-7zM191 251h73v1h-73zM326 249h66v4h-66zM276 250h7v3h-7zM304 251h8v2h-8zM289 249h3v5h-3zM268 250h2v4h-2zM0 250h185v4h-185zM190 252h74v2h-74zM305 253h8v1h-8zM275 253h8v1h-8zM316 253h3v1h-3zM325 253h67v1h-67zM321 254h27v1h-27zM197 254h68v1h-68zM305 254h15v1h-15zM0 254h184v1h-184zM274 254h9v1h-9zM300 244h1v12h-1zM297 251h1v5h-1zM356 254h36v2h-36zM267 254h4v2h-4zM138 255h44v1h-44zM210 255h55v1h-55zM200 255h3v1h-3zM117 255h8v1h-8zM131 255h3v1h-3zM305 255h42v1h-42zM54 255h56v1h-56zM0 255h51v2h-51zM102 256h6v1h-6zM118 256h3v1h-3zM211 256h60v1h-60zM140 256h13v1h-13zM306 256h40v1h-40zM357 256h35v1h-35zM156 256h3v1h-3zM56 256h28v1h-28zM274 255h10v3h-10zM294 255h1v3h-1zM296 256h2v2h-2zM300 256h2v2h-2zM7 257h19v1h-19zM27 257h24v1h-24zM358 257h32v1h-32zM57 257h3v1h-3zM307 257h39v1h-39zM237 257h35v1h-35zM66 257h16v1h-16zM141 257h11v1h-11zM212 257h15v1h-15zM9 258h14v1h-14zM308 258h36v1h-36zM143 258h8v1h-8zM71 258h11v1h-11zM300 258h1v1h-1zM217 258h8v1h-8zM280 258h4v1h-4zM359 258h26v1h-26zM239 258h40v1h-40zM289 254h4v6h-4zM240 259h37v1h-37zM360 259h23v1h-23zM11 259h5v1h-5zM281 259h4v1h-4zM319 259h16v1h-16zM336 259h6v1h-6zM146 259h3v1h-3zM221 259h2v1h-2zM37 258h14v3h-14zM294 258h3v3h-3zM299 259h2v2h-2zM73 259h9v2h-9zM242 260h34v1h-34zM339 260h2v1h-2zM319 260h19v1h-19zM282 260h4v1h-4zM290 260h3v1h-3zM360 260h24v1h-24zM57 260h2v1h-2z"/>
<path fill="#FFC800" d="M145 0h4v1h-4zM178 0h7v1h-7zM177 1h9v1h-9zM144 1h5v1h-5zM224 0h15v3h-15zM144 2h6v1h-6zM18 0h13v4h-13zM178 2h8v2h-8zM224 3h16v1h-16zM94 3h1v1h-1zM145 3h5v2h-5zM223 4h18v2h-18zM17 4h15v2h-15zM178 4h7v3h-7zM93 4h3v3h-3zM144 5h7v2h-7zM25 6h8v1h-8zM17 6h5v1h-5zM221 6h7v1h-7zM233 6h8v1h-8zM149 7h3v1h-3zM179 7h7v1h-7zM219 7h8v1h-8zM276 7h6v1h-6zM27 7h7v1h-7zM212 7h2v1h-2zM234 7h7v1h-7zM144 7h3v1h-3zM16 7h4v2h-4zM275 8h8v1h-8zM150 8h3v1h-3zM180 8h5v1h-5zM254 8h6v1h-6zM236 8h5v1h-5zM210 8h16v1h-16zM27 8h8v1h-8zM144 8h2v2h-2zM28 9h9v1h-9zM181 9h2v1h-2zM255 9h7v1h-7zM274 9h10v1h-10zM207 9h19v1h-19zM151 9h2v1h-2zM92 7h4v4h-4zM16 9h3v2h-3zM237 9h5v2h-5zM30 10h11v1h-11zM273 10h12v1h-12zM144 10h3v1h-3zM194 10h32v1h-32zM255 10h8v1h-8zM151 10h3v2h-3zM255 11h9v1h-9zM31 11h11v1h-11zM273 11h14v1h-14zM193 11h33v1h-33zM145 11h2v2h-2zM93 11h3v2h-3zM192 12h33v1h-33zM32 12h10v1h-10zM152 12h3v1h-3zM254 12h11v1h-11zM272 12h16v1h-16zM238 11h4v3h-4zM145 13h3v1h-3zM200 13h25v1h-25zM271 13h18v1h-18zM255 13h11v1h-11zM33 13h10v1h-10zM192 13h5v1h-5zM152 13h4v1h-4zM145 14h5v1h-5zM255 14h12v1h-12zM270 14h21v1h-21zM34 14h9v1h-9zM209 14h16v1h-16zM151 14h6v1h-6zM16 11h2v5h-2zM191 14h5v2h-5zM213 15h13v1h-13zM146 15h11v1h-11zM256 15h36v1h-36zM35 15h9v2h-9zM191 16h4v1h-4zM276 16h18v1h-18zM214 16h13v1h-13zM316 16h2v1h-2zM257 16h14v1h-14zM147 16h10v1h-10zM148 17h10v1h-10zM214 17h14v1h-14zM257 17h13v1h-13zM36 17h9v1h-9zM313 17h6v1h-6zM278 17h18v2h-18zM190 17h5v2h-5zM149 18h9v1h-9zM258 18h12v1h-12zM37 18h8v1h-8zM214 18h15v1h-15zM311 18h8v1h-8zM239 14h3v6h-3zM258 19h13v1h-13zM279 19h17v1h-17zM215 19h15v1h-15zM150 19h8v1h-8zM39 19h7v1h-7zM190 19h4v2h-4zM41 20h6v1h-6zM258 20h14v1h-14zM280 20h16v1h-16zM215 20h16v1h-16zM311 19h9v3h-9zM238 20h4v2h-4zM281 21h15v1h-15zM42 21h5v1h-5zM259 21h13v1h-13zM189 21h4v1h-4zM215 21h8v1h-8zM226 21h6v1h-6zM16 16h3v7h-3zM282 22h15v1h-15zM42 22h7v1h-7zM228 22h6v1h-6zM189 22h3v1h-3zM237 22h5v1h-5zM215 22h7v1h-7zM311 22h8v2h-8zM229 23h12v1h-12zM42 23h9v1h-9zM283 23h15v1h-15zM259 22h3v3h-3zM215 23h6v2h-6zM42 24h11v1h-11zM66 24h5v1h-5zM284 24h14v1h-14zM231 24h10v1h-10zM266 22h6v4h-6zM15 23h3v3h-3zM285 25h12v1h-12zM44 25h10v1h-10zM232 25h8v1h-8zM259 25h4v1h-4zM215 25h5v1h-5zM65 25h7v1h-7zM215 26h4v1h-4zM51 26h5v1h-5zM235 26h4v1h-4zM260 26h12v1h-12zM286 26h10v1h-10zM64 26h9v1h-9zM151 20h8v8h-8zM311 24h9v4h-9zM14 26h4v2h-4zM261 27h11v1h-11zM71 27h3v1h-3zM54 27h3v1h-3zM214 27h4v1h-4zM63 27h3v1h-3zM189 23h2v6h-2zM287 27h9v2h-9zM214 28h3v1h-3zM72 28h3v1h-3zM13 28h5v1h-5zM263 28h8v1h-8zM153 28h6v1h-6zM61 28h4v1h-4zM55 28h4v1h-4zM213 29h4v1h-4zM288 29h8v1h-8zM73 29h4v1h-4zM56 29h8v1h-8zM154 29h4v1h-4zM189 29h3v1h-3zM266 29h4v1h-4zM311 28h8v3h-8zM13 29h4v2h-4zM290 30h6v1h-6zM74 30h5v1h-5zM212 30h4v1h-4zM58 30h4v1h-4zM190 30h3v1h-3zM312 31h7v1h-7zM75 31h8v1h-8zM12 31h5v1h-5zM210 31h4v1h-4zM191 31h5v1h-5zM77 32h8v1h-8zM11 32h7v1h-7zM193 32h6v1h-6zM207 32h6v1h-6zM313 32h4v1h-4zM10 33h8v1h-8zM197 33h14v1h-14zM81 33h5v1h-5zM84 34h3v1h-3zM9 34h9v1h-9zM200 34h8v1h-8zM0 35h17v1h-17zM85 35h4v1h-4zM86 36h4v1h-4zM0 36h18v2h-18zM88 37h4v1h-4zM5 38h12v1h-12zM90 38h5v1h-5zM91 39h7v1h-7zM387 39h4v1h-4zM7 39h10v2h-10zM385 40h7v1h-7zM94 40h10v1h-10zM383 41h9v1h-9zM97 41h9v1h-9zM177 42h3v1h-3zM101 42h6v1h-6zM380 42h8v1h-8zM8 41h9v3h-9zM176 43h5v1h-5zM377 43h8v1h-8zM104 43h5v1h-5zM374 44h8v1h-8zM175 44h6v1h-6zM7 44h10v1h-10zM106 44h4v1h-4zM6 45h10v1h-10zM371 45h9v1h-9zM174 45h7v1h-7zM108 45h3v1h-3zM369 46h10v1h-10zM109 46h4v1h-4zM5 46h12v2h-12zM173 46h8v2h-8zM368 47h8v1h-8zM111 47h3v1h-3zM112 48h4v1h-4zM5 48h13v1h-13zM366 48h7v1h-7zM174 48h6v2h-6zM0 49h18v1h-18zM354 49h17v1h-17zM113 49h4v1h-4zM351 50h19v1h-19zM175 50h4v1h-4zM115 50h4v1h-4zM0 50h17v2h-17zM117 51h4v1h-4zM359 51h10v1h-10zM348 51h5v1h-5zM361 52h8v1h-8zM344 52h6v1h-6zM0 52h16v1h-16zM118 52h5v1h-5zM0 53h15v1h-15zM362 53h6v1h-6zM120 53h5v1h-5zM340 53h8v1h-8zM362 54h5v1h-5zM123 54h3v1h-3zM339 54h7v1h-7zM0 54h14v1h-14zM124 55h3v1h-3zM337 55h7v1h-7zM0 55h13v2h-13zM126 56h3v1h-3zM334 56h8v1h-8zM331 57h9v1h-9zM0 57h12v1h-12zM127 57h3v1h-3zM129 58h3v1h-3zM0 58h11v1h-11zM329 58h9v1h-9zM328 59h9v1h-9zM130 59h3v1h-3zM0 59h9v2h-9zM327 60h9v1h-9zM131 60h3v1h-3zM131 61h4v1h-4zM326 61h9v1h-9zM0 61h7v1h-7zM131 62h6v1h-6zM325 62h9v1h-9zM46 63h11v1h-11zM131 63h10v1h-10zM324 63h9v1h-9zM323 64h9v1h-9zM52 64h9v1h-9zM39 64h12v1h-12zM65 64h14v1h-14zM130 64h14v1h-14zM36 65h10v1h-10zM323 65h8v1h-8zM56 65h25v1h-25zM130 65h16v1h-16zM128 66h10v1h-10zM59 66h24v1h-24zM323 66h6v1h-6zM35 66h9v1h-9zM142 66h5v1h-5zM322 67h7v1h-7zM79 67h15v1h-15zM35 67h6v1h-6zM144 67h7v1h-7zM127 67h9v2h-9zM81 68h17v1h-17zM145 68h9v1h-9zM35 68h5v1h-5zM322 68h6v2h-6zM94 69h24v1h-24zM147 69h9v1h-9zM35 69h4v1h-4zM127 69h8v1h-8zM150 70h7v1h-7zM97 70h36v1h-36zM322 70h5v2h-5zM100 71h4v1h-4zM153 71h5v1h-5zM114 71h18v1h-18zM117 72h13v1h-13zM322 72h4v2h-4zM122 73h8v1h-8zM154 72h5v3h-5zM125 74h5v1h-5zM322 74h3v2h-3zM155 75h4v1h-4zM34 70h4v7h-4zM126 75h4v2h-4zM154 76h4v1h-4zM322 76h4v2h-4zM127 77h4v1h-4zM33 77h5v2h-5zM347 78h6v1h-6zM128 78h4v1h-4zM308 78h7v1h-7zM154 77h3v3h-3zM322 78h5v2h-5zM129 79h4v1h-4zM32 79h14v1h-14zM210 79h10v1h-10zM308 79h12v1h-12zM343 79h10v1h-10zM341 80h12v1h-12zM308 80h13v1h-13zM208 80h16v1h-16zM323 80h6v1h-6zM130 80h4v1h-4zM32 80h5v1h-5zM39 80h8v1h-8zM153 80h3v2h-3zM323 81h7v1h-7zM132 81h3v1h-3zM207 81h20v1h-20zM32 81h3v1h-3zM340 81h13v1h-13zM309 81h13v1h-13zM41 81h7v1h-7zM325 82h6v1h-6zM226 82h3v1h-3zM350 82h3v1h-3zM133 82h3v1h-3zM207 82h13v1h-13zM339 82h7v1h-7zM31 82h4v1h-4zM310 82h12v1h-12zM152 82h4v1h-4zM311 83h10v1h-10zM228 83h2v1h-2zM328 83h5v1h-5zM338 83h6v1h-6zM208 83h11v1h-11zM151 83h4v1h-4zM350 83h4v1h-4zM133 83h4v1h-4zM30 83h4v2h-4zM134 84h4v1h-4zM229 84h2v1h-2zM312 84h8v1h-8zM351 84h3v1h-3zM329 84h14v1h-14zM209 84h9v1h-9zM149 84h5v1h-5zM41 82h8v4h-8zM351 85h4v1h-4zM313 85h7v1h-7zM135 85h17v1h-17zM29 85h4v1h-4zM331 85h8v1h-8zM210 85h7v1h-7zM230 85h2v1h-2zM377 86h3v1h-3zM211 86h6v1h-6zM314 86h4v1h-4zM139 86h3v1h-3zM351 86h5v1h-5zM28 86h5v1h-5zM44 86h4v1h-4zM231 86h1v2h-1zM25 87h8v1h-8zM212 87h5v1h-5zM352 87h6v1h-6zM375 87h5v1h-5zM353 88h27v1h-27zM51 88h3v1h-3zM213 88h5v1h-5zM22 88h10v1h-10zM231 88h2v2h-2zM213 89h6v1h-6zM354 89h26v1h-26zM17 89h15v1h-15zM51 89h6v1h-6zM14 90h8v1h-8zM357 90h13v1h-13zM27 90h3v1h-3zM50 90h10v1h-10zM116 90h5v1h-5zM214 90h6v1h-6zM371 90h10v1h-10zM231 90h3v2h-3zM167 91h24v1h-24zM216 91h6v1h-6zM113 91h15v1h-15zM50 91h12v1h-12zM0 91h18v1h-18zM376 91h6v1h-6zM0 92h15v1h-15zM377 92h7v1h-7zM218 92h5v1h-5zM230 92h5v1h-5zM50 92h14v1h-14zM165 92h29v1h-29zM112 92h18v1h-18zM164 93h5v1h-5zM378 93h8v1h-8zM110 93h6v1h-6zM125 93h6v1h-6zM175 93h4v1h-4zM220 93h15v1h-15zM191 93h5v1h-5zM50 93h16v1h-16zM102 94h3v1h-3zM162 94h4v1h-4zM107 94h7v1h-7zM223 94h14v1h-14zM194 94h4v1h-4zM127 94h4v1h-4zM59 94h8v1h-8zM71 94h7v1h-7zM380 94h12v1h-12zM51 94h6v2h-6zM383 95h9v1h-9zM161 95h4v1h-4zM60 95h19v1h-19zM98 95h15v1h-15zM196 95h3v1h-3zM226 95h17v1h-17zM234 96h12v1h-12zM160 96h3v1h-3zM198 96h2v1h-2zM95 96h17v1h-17zM387 96h3v1h-3zM52 96h6v1h-6zM59 96h21v1h-21zM52 97h22v1h-22zM159 97h3v1h-3zM92 97h20v1h-20zM198 97h3v1h-3zM234 97h13v1h-13zM77 97h4v1h-4zM91 98h20v1h-20zM158 98h3v1h-3zM234 98h14v1h-14zM53 98h20v1h-20zM199 98h2v1h-2zM128 95h3v5h-3zM199 99h3v1h-3zM90 99h21v1h-21zM234 99h5v1h-5zM245 99h5v1h-5zM158 99h2v1h-2zM54 99h18v1h-18zM57 100h14v1h-14zM89 100h21v1h-21zM200 100h3v1h-3zM128 100h2v1h-2zM157 100h3v1h-3zM247 100h4v1h-4zM234 100h4v2h-4zM61 101h10v1h-10zM156 101h3v1h-3zM201 101h4v1h-4zM248 101h4v1h-4zM88 101h22v1h-22zM78 98h4v5h-4zM127 101h3v2h-3zM87 102h23v1h-23zM63 102h9v1h-9zM249 102h3v1h-3zM154 102h4v1h-4zM201 102h5v1h-5zM138 103h6v1h-6zM125 103h4v1h-4zM152 103h5v1h-5zM202 103h5v1h-5zM77 103h4v1h-4zM249 103h4v1h-4zM65 103h7v1h-7zM235 102h3v3h-3zM87 103h24v2h-24zM201 104h7v1h-7zM250 104h4v1h-4zM137 104h20v1h-20zM124 104h4v1h-4zM66 104h15v1h-15zM87 105h25v1h-25zM201 105h9v1h-9zM67 105h12v1h-12zM136 105h19v1h-19zM251 105h6v1h-6zM234 105h4v1h-4zM122 105h4v1h-4zM206 106h6v1h-6zM87 106h38v1h-38zM195 106h5v1h-5zM233 106h6v1h-6zM253 106h7v1h-7zM135 106h5v1h-5zM69 106h7v1h-7zM209 107h6v1h-6zM255 107h7v1h-7zM88 107h34v1h-34zM134 107h4v1h-4zM193 107h7v1h-7zM232 107h7v1h-7zM257 108h7v1h-7zM191 108h8v1h-8zM231 108h9v1h-9zM211 108h6v1h-6zM89 108h30v1h-30zM133 108h4v2h-4zM260 109h7v1h-7zM188 109h11v1h-11zM90 109h25v1h-25zM230 109h11v1h-11zM213 109h7v1h-7zM229 110h14v1h-14zM93 110h19v1h-19zM180 110h19v1h-19zM261 110h8v1h-8zM215 110h9v1h-9zM264 111h7v1h-7zM217 111h27v1h-27zM282 111h3v1h-3zM97 111h14v1h-14zM175 111h25v1h-25zM171 112h29v1h-29zM266 112h7v1h-7zM101 112h8v1h-8zM277 112h9v1h-9zM219 112h26v1h-26zM103 113h4v1h-4zM268 113h19v1h-19zM221 113h25v1h-25zM166 113h34v1h-34zM162 114h10v1h-10zM270 114h17v1h-17zM161 115h8v1h-8zM271 115h16v1h-16zM133 110h3v7h-3zM223 114h23v3h-23zM193 114h7v3h-7zM159 116h8v1h-8zM272 116h16v1h-16zM274 117h14v1h-14zM158 117h7v1h-7zM134 117h2v1h-2zM192 117h8v1h-8zM223 117h24v1h-24zM279 118h10v1h-10zM155 118h9v1h-9zM134 118h3v1h-3zM192 118h9v1h-9zM192 119h11v1h-11zM152 119h10v1h-10zM298 119h5v1h-5zM135 119h3v1h-3zM282 119h7v1h-7zM224 118h23v3h-23zM148 120h12v1h-12zM136 120h4v1h-4zM282 120h6v1h-6zM297 120h9v1h-9zM192 120h12v1h-12zM192 121h15v1h-15zM137 121h22v1h-22zM281 121h7v1h-7zM222 121h26v1h-26zM297 121h11v1h-11zM139 122h15v1h-15zM191 122h19v1h-19zM281 122h6v1h-6zM214 122h42v1h-42zM297 122h13v1h-13zM281 123h5v1h-5zM192 123h71v1h-71zM192 124h74v1h-74zM280 124h6v1h-6zM297 123h14v3h-14zM251 125h5v1h-5zM193 125h54v1h-54zM258 125h10v1h-10zM278 125h7v1h-7zM260 126h24v1h-24zM299 126h12v1h-12zM193 126h13v1h-13zM210 126h33v1h-33zM211 127h29v1h-29zM196 127h8v1h-8zM301 127h9v1h-9zM263 127h18v1h-18zM268 128h8v1h-8zM304 128h6v1h-6zM213 128h23v1h-23zM222 129h9v1h-9zM296 196h1v1h-1zM295 197h2v1h-2zM295 198h1v2h-1zM286 199h2v1h-2zM286 200h3v1h-3zM362 201h5v1h-5zM285 201h6v1h-6zM297 200h1v3h-1zM279 202h12v1h-12zM78 202h6v1h-6zM354 202h13v2h-13zM277 203h15v1h-15zM78 203h5v1h-5zM348 203h3v1h-3zM346 204h6v1h-6zM353 204h15v1h-15zM79 204h4v1h-4zM333 204h2v1h-2zM275 204h17v2h-17zM332 205h36v1h-36zM327 205h3v1h-3zM81 206h3v1h-3zM332 206h35v1h-35zM135 206h3v1h-3zM326 206h4v1h-4zM274 206h18v2h-18zM0 207h4v1h-4zM32 207h8v1h-8zM91 207h4v1h-4zM80 207h7v1h-7zM269 207h2v1h-2zM388 207h4v1h-4zM74 207h4v1h-4zM128 207h11v1h-11zM326 207h41v1h-41zM25 208h32v1h-32zM63 208h2v1h-2zM325 208h43v1h-43zM387 208h5v1h-5zM72 208h24v1h-24zM0 208h7v1h-7zM12 208h8v1h-8zM127 208h14v1h-14zM268 208h4v1h-4zM274 208h5v2h-5zM280 208h12v2h-12zM315 209h3v1h-3zM308 209h4v1h-4zM126 209h16v1h-16zM232 209h1v1h-1zM384 209h8v1h-8zM102 209h4v1h-4zM323 209h45v1h-45zM0 209h97v1h-97zM115 209h3v2h-3zM314 210h5v1h-5zM307 210h6v1h-6zM281 210h6v1h-6zM123 210h20v1h-20zM0 210h108v1h-108zM320 210h48v1h-48zM267 209h5v3h-5zM231 210h1v2h-1zM288 210h4v2h-4zM306 211h7v1h-7zM120 211h23v1h-23zM91 211h19v1h-19zM314 211h54v1h-54zM114 211h5v1h-5zM0 211h90v1h-90zM294 202h1v11h-1zM298 209h1v4h-1zM281 211h1v2h-1zM283 211h3v2h-3zM182 212h3v1h-3zM261 212h4v1h-4zM92 212h53v1h-53zM230 212h7v1h-7zM288 212h3v1h-3zM306 212h23v1h-23zM266 212h6v1h-6zM0 212h88v1h-88zM330 212h38v2h-38zM288 213h4v1h-4zM16 213h71v1h-71zM259 213h13v1h-13zM228 213h10v1h-10zM181 213h6v1h-6zM0 213h14v1h-14zM293 213h2v1h-2zM92 213h55v1h-55zM281 213h5v1h-5zM298 213h2v1h-2zM305 213h24v1h-24zM383 210h9v5h-9zM18 214h8v1h-8zM192 214h4v1h-4zM92 214h56v1h-56zM282 214h4v1h-4zM0 214h12v1h-12zM305 214h69v1h-69zM29 214h59v1h-59zM257 214h15v1h-15zM288 214h7v1h-7zM252 214h1v1h-1zM227 214h13v1h-13zM175 214h14v1h-14zM298 214h3v2h-3zM74 215h73v1h-73zM19 215h6v1h-6zM304 215h88v1h-88zM0 215h10v1h-10zM174 215h23v1h-23zM251 215h4v1h-4zM30 215h43v1h-43zM283 215h3v1h-3zM256 215h16v1h-16zM226 215h14v2h-14zM174 216h6v1h-6zM298 216h10v1h-10zM20 216h4v1h-4zM30 216h22v1h-22zM251 216h22v1h-22zM309 216h83v1h-83zM183 216h14v1h-14zM94 216h47v1h-47zM57 216h13v1h-13zM77 216h15v1h-15zM289 215h6v3h-6zM281 216h5v2h-5zM330 217h62v1h-62zM298 217h8v1h-8zM58 217h10v1h-10zM313 217h2v1h-2zM324 217h5v1h-5zM175 217h4v1h-4zM317 217h6v1h-6zM252 217h21v1h-21zM310 217h2v1h-2zM94 217h45v1h-45zM79 217h13v1h-13zM225 217h15v1h-15zM30 217h21v1h-21zM0 216h9v3h-9zM183 217h15v2h-15zM21 217h2v2h-2zM226 218h8v1h-8zM325 218h4v1h-4zM331 218h61v1h-61zM298 218h7v1h-7zM59 218h8v1h-8zM253 218h20v1h-20zM318 218h4v1h-4zM81 218h11v1h-11zM95 218h42v1h-42zM30 218h20v2h-20zM227 219h6v1h-6zM59 219h7v1h-7zM21 219h1v1h-1zM319 219h3v1h-3zM81 219h10v1h-10zM256 219h17v1h-17zM245 219h3v1h-3zM325 219h67v1h-67zM95 219h40v1h-40zM185 219h14v1h-14zM288 218h7v3h-7zM0 219h10v2h-10zM298 219h6v2h-6zM96 220h38v1h-38zM186 220h14v1h-14zM59 220h5v1h-5zM81 220h8v1h-8zM30 220h18v1h-18zM228 220h4v1h-4zM257 220h16v1h-16zM20 220h2v1h-2zM274 210h4v12h-4zM58 221h6v1h-6zM98 221h34v1h-34zM80 221h7v1h-7zM263 221h10v1h-10zM29 221h19v1h-19zM0 221h11v1h-11zM18 221h4v1h-4zM187 221h13v1h-13zM280 218h7v5h-7zM324 220h68v3h-68zM297 221h6v2h-6zM288 221h8v2h-8zM108 222h18v1h-18zM188 222h13v1h-13zM29 222h20v1h-20zM79 222h7v1h-7zM266 222h6v1h-6zM57 222h6v1h-6zM371 223h21v1h-21zM28 223h22v1h-22zM267 223h2v1h-2zM196 223h4v1h-4zM188 223h4v1h-4zM76 223h9v1h-9zM321 223h1v1h-1zM54 223h10v1h-10zM114 223h10v1h-10zM324 223h46v1h-46zM275 222h3v3h-3zM0 222h23v3h-23zM280 223h6v2h-6zM119 224h2v1h-2zM320 224h27v1h-27zM357 224h10v1h-10zM267 224h1v1h-1zM27 224h57v1h-57zM349 224h3v1h-3zM288 223h15v3h-15zM373 224h19v2h-19zM318 225h14v1h-14zM276 225h10v1h-10zM26 225h57v1h-57zM0 225h24v1h-24zM36 226h30v1h-30zM374 226h18v1h-18zM288 226h16v1h-16zM317 226h15v1h-15zM0 226h29v1h-29zM277 226h10v1h-10zM0 227h26v1h-26zM375 227h17v1h-17zM277 227h23v1h-23zM316 227h9v1h-9zM301 227h4v1h-4zM327 227h5v1h-5zM41 227h22v1h-22zM314 228h11v1h-11zM302 228h4v1h-4zM328 228h4v1h-4zM277 228h13v1h-13zM377 228h15v1h-15zM0 228h22v1h-22zM310 228h1v1h-1zM44 228h17v1h-17zM292 228h8v1h-8zM0 229h21v1h-21zM293 229h7v1h-7zM277 229h12v1h-12zM303 229h21v1h-21zM329 229h3v1h-3zM380 229h12v1h-12zM55 229h4v1h-4zM382 230h10v1h-10zM278 230h11v1h-11zM16 230h3v1h-3zM9 230h3v1h-3zM305 230h11v1h-11zM3 230h3v1h-3zM294 230h6v2h-6zM318 230h5v2h-5zM281 231h8v1h-8zM306 231h4v1h-4zM312 231h1v1h-1zM384 231h5v1h-5zM278 231h2v2h-2zM294 232h5v1h-5zM318 232h4v1h-4zM282 232h7v1h-7zM319 233h2v1h-2zM278 233h1v1h-1zM282 233h6v3h-6zM293 233h6v3h-6zM282 236h5v1h-5zM282 237h3v1h-3zM266 238h1v2h-1zM283 238h1v2h-1zM331 239h1v1h-1zM294 236h5v5h-5zM265 240h3v1h-3zM330 240h3v2h-3zM319 241h1v1h-1zM298 241h1v1h-1zM272 241h2v1h-2zM322 241h2v1h-2zM311 241h2v1h-2zM318 242h7v1h-7zM271 242h3v1h-3zM310 242h6v1h-6zM310 243h16v1h-16zM294 241h3v4h-3zM329 242h5v3h-5zM270 243h5v2h-5zM264 241h4v5h-4zM310 244h17v2h-17zM269 245h6v1h-6zM329 245h4v2h-4zM309 246h18v1h-18zM330 247h3v1h-3zM306 244h1v5h-1zM264 246h12v3h-12zM308 247h19v2h-19zM264 249h11v1h-11zM311 249h15v2h-15zM270 250h6v3h-6zM312 251h14v2h-14zM264 250h4v4h-4zM270 253h5v1h-5zM319 253h6v1h-6zM313 253h3v1h-3zM320 254h1v1h-1zM295 245h2v11h-2zM265 254h2v2h-2zM271 254h3v3h-3zM295 256h1v2h-1zM272 257h2v1h-2z"/>
<path fill="#FFA000" d="M228 6h5v1h-5zM22 6h3v1h-3zM227 7h7v1h-7zM147 7h2v1h-2zM20 7h7v2h-7zM226 8h10v1h-10zM146 8h4v1h-4zM146 9h5v1h-5zM19 9h9v1h-9zM226 9h11v2h-11zM19 10h11v1h-11zM147 10h4v2h-4zM18 11h13v1h-13zM226 11h12v1h-12zM18 12h14v1h-14zM147 12h5v1h-5zM225 12h13v2h-13zM197 13h3v1h-3zM18 13h15v1h-15zM148 13h4v1h-4zM150 14h1v1h-1zM196 14h13v1h-13zM225 14h14v1h-14zM27 14h7v1h-7zM18 14h5v2h-5zM196 15h17v1h-17zM28 15h7v1h-7zM226 15h13v1h-13zM29 16h6v1h-6zM227 16h12v1h-12zM195 16h19v2h-19zM19 16h4v2h-4zM30 17h6v1h-6zM228 17h11v1h-11zM32 18h5v1h-5zM229 18h10v1h-10zM195 18h8v1h-8zM205 18h9v1h-9zM207 19h8v1h-8zM32 19h7v1h-7zM194 19h6v1h-6zM230 19h9v1h-9zM19 18h3v3h-3zM194 20h4v1h-4zM33 20h8v1h-8zM231 20h7v1h-7zM193 21h5v1h-5zM232 21h6v1h-6zM34 21h8v2h-8zM19 21h4v2h-4zM234 22h3v1h-3zM192 22h4v1h-4zM35 23h7v1h-7zM191 23h4v1h-4zM262 22h4v3h-4zM36 24h6v1h-6zM208 20h7v6h-7zM263 25h3v1h-3zM37 25h7v1h-7zM18 23h5v4h-5zM38 26h13v1h-13zM209 26h6v1h-6zM66 27h5v1h-5zM209 27h5v1h-5zM39 27h15v1h-15zM191 24h3v5h-3zM18 27h6v2h-6zM40 28h15v1h-15zM65 28h7v1h-7zM208 28h6v1h-6zM17 29h7v1h-7zM64 29h9v1h-9zM206 29h7v1h-7zM41 29h15v1h-15zM192 29h4v1h-4zM62 30h5v1h-5zM44 30h3v1h-3zM70 30h4v1h-4zM193 30h19v1h-19zM54 30h4v1h-4zM17 30h6v2h-6zM196 31h14v1h-14zM71 31h4v1h-4zM56 31h9v1h-9zM72 32h5v1h-5zM58 32h5v1h-5zM199 32h8v1h-8zM18 32h5v2h-5zM74 33h7v1h-7zM76 34h8v1h-8zM18 34h6v1h-6zM17 35h7v1h-7zM79 35h6v1h-6zM82 36h4v1h-4zM18 36h6v2h-6zM84 37h4v1h-4zM85 38h5v1h-5zM17 38h7v1h-7zM0 38h5v1h-5zM87 39h4v1h-4zM17 39h8v1h-8zM0 39h7v2h-7zM88 40h6v1h-6zM17 40h9v2h-9zM90 41h7v1h-7zM388 42h4v1h-4zM92 42h9v1h-9zM17 42h8v1h-8zM0 41h8v3h-8zM94 43h10v1h-10zM17 43h7v1h-7zM385 43h7v1h-7zM0 44h7v1h-7zM96 44h10v1h-10zM382 44h10v1h-10zM17 44h6v1h-6zM97 45h11v1h-11zM16 45h7v1h-7zM380 45h12v1h-12zM0 45h6v1h-6zM379 46h6v1h-6zM99 46h10v1h-10zM17 46h7v2h-7zM376 47h8v1h-8zM104 47h7v1h-7zM0 46h5v3h-5zM106 48h6v1h-6zM373 48h10v1h-10zM18 48h6v2h-6zM371 49h11v1h-11zM108 49h5v1h-5zM370 50h7v1h-7zM110 50h5v1h-5zM17 50h7v2h-7zM353 51h6v1h-6zM112 51h5v1h-5zM369 51h6v2h-6zM350 52h11v1h-11zM16 52h8v1h-8zM113 52h5v1h-5zM114 53h6v1h-6zM368 53h7v1h-7zM348 53h14v1h-14zM15 53h9v1h-9zM367 54h7v1h-7zM346 54h5v1h-5zM116 54h7v1h-7zM14 54h9v1h-9zM357 54h5v1h-5zM13 55h9v1h-9zM344 55h5v1h-5zM357 55h16v1h-16zM119 55h5v1h-5zM358 56h13v1h-13zM121 56h5v1h-5zM13 56h6v1h-6zM342 56h6v1h-6zM123 57h4v1h-4zM359 57h11v1h-11zM12 57h5v1h-5zM340 57h7v1h-7zM338 58h8v1h-8zM360 58h8v1h-8zM11 58h5v1h-5zM125 58h4v1h-4zM9 59h6v1h-6zM126 59h4v1h-4zM337 59h8v1h-8zM360 59h7v2h-7zM9 60h5v1h-5zM336 60h7v1h-7zM62 61h5v1h-5zM39 61h20v1h-20zM335 61h6v1h-6zM74 61h5v1h-5zM7 61h7v1h-7zM359 61h8v1h-8zM334 62h5v1h-5zM0 62h13v1h-13zM34 62h49v1h-49zM358 62h9v1h-9zM127 60h4v4h-4zM33 63h13v1h-13zM57 63h31v1h-31zM0 63h12v1h-12zM333 63h5v1h-5zM358 63h10v1h-10zM61 64h4v1h-4zM32 64h7v1h-7zM126 64h4v1h-4zM332 64h5v1h-5zM357 64h11v1h-11zM79 64h12v1h-12zM0 64h10v1h-10zM331 65h6v1h-6zM107 65h5v1h-5zM0 65h7v1h-7zM125 65h5v1h-5zM355 65h13v1h-13zM81 65h15v1h-15zM31 65h5v1h-5zM104 66h17v1h-17zM31 66h4v1h-4zM83 66h17v1h-17zM123 66h5v1h-5zM354 66h14v1h-14zM138 66h4v1h-4zM329 66h8v2h-8zM136 67h8v1h-8zM94 67h33v1h-33zM354 67h12v1h-12zM30 67h5v1h-5zM98 68h29v1h-29zM353 68h10v1h-10zM136 68h9v1h-9zM328 68h9v1h-9zM31 68h4v2h-4zM352 69h10v1h-10zM135 69h12v1h-12zM328 69h8v1h-8zM118 69h9v1h-9zM142 70h8v1h-8zM30 70h4v1h-4zM351 70h9v1h-9zM133 70h6v1h-6zM327 70h9v1h-9zM327 71h4v1h-4zM334 71h5v1h-5zM132 71h6v1h-6zM144 71h9v1h-9zM350 71h9v2h-9zM31 71h3v2h-3zM336 72h4v1h-4zM130 72h6v1h-6zM326 72h4v1h-4zM146 72h8v1h-8zM147 73h7v1h-7zM349 73h10v1h-10zM337 73h4v1h-4zM130 73h5v1h-5zM326 73h3v1h-3zM348 74h10v1h-10zM338 74h5v1h-5zM149 74h5v1h-5zM30 73h4v3h-4zM130 74h4v2h-4zM325 74h4v2h-4zM150 75h5v1h-5zM338 75h20v2h-20zM29 76h5v1h-5zM130 76h5v1h-5zM326 76h3v1h-3zM326 77h4v1h-4zM337 77h21v1h-21zM131 77h4v1h-4zM29 77h4v2h-4zM327 78h3v1h-3zM132 78h4v1h-4zM337 78h10v1h-10zM150 76h4v4h-4zM353 78h5v2h-5zM29 79h3v1h-3zM133 79h4v1h-4zM327 79h5v1h-5zM335 79h8v1h-8zM134 80h4v1h-4zM329 80h12v1h-12zM377 80h4v1h-4zM150 80h3v1h-3zM28 80h4v1h-4zM353 80h4v2h-4zM149 81h4v1h-4zM330 81h10v1h-10zM135 81h4v1h-4zM375 81h7v1h-7zM27 81h5v1h-5zM136 82h4v1h-4zM375 82h8v1h-8zM331 82h8v1h-8zM220 82h6v1h-6zM27 82h4v1h-4zM353 82h5v1h-5zM148 82h4v1h-4zM374 83h10v1h-10zM26 83h4v1h-4zM354 83h4v1h-4zM219 83h9v1h-9zM333 83h5v1h-5zM137 83h14v1h-14zM23 84h7v1h-7zM218 84h6v1h-6zM227 84h2v1h-2zM138 84h11v1h-11zM373 84h12v1h-12zM354 84h5v1h-5zM355 85h14v1h-14zM371 85h15v1h-15zM228 85h2v1h-2zM22 85h7v1h-7zM356 86h21v1h-21zM16 86h12v1h-12zM217 85h5v3h-5zM380 86h7v2h-7zM358 87h17v1h-17zM0 87h7v1h-7zM13 87h12v1h-12zM229 86h2v3h-2zM380 88h8v1h-8zM0 88h22v1h-22zM218 88h5v1h-5zM228 89h3v1h-3zM380 89h10v1h-10zM219 89h6v1h-6zM0 89h17v1h-17zM381 90h11v1h-11zM0 90h14v1h-14zM220 90h11v1h-11zM222 91h9v1h-9zM382 91h10v1h-10zM223 92h7v1h-7zM384 92h8v1h-8zM169 93h6v1h-6zM116 93h9v1h-9zM179 93h12v1h-12zM386 93h6v1h-6zM57 94h2v1h-2zM114 94h13v1h-13zM166 94h28v1h-28zM113 95h6v1h-6zM165 95h31v1h-31zM123 95h5v1h-5zM57 95h3v1h-3zM193 96h5v1h-5zM163 96h27v1h-27zM112 96h5v1h-5zM58 96h1v1h-1zM125 96h3v2h-3zM162 97h4v1h-4zM171 97h4v1h-4zM74 97h3v1h-3zM112 97h4v1h-4zM195 97h3v1h-3zM161 98h3v1h-3zM73 98h5v1h-5zM111 98h4v1h-4zM196 98h3v2h-3zM126 98h2v2h-2zM160 99h3v1h-3zM239 99h6v1h-6zM72 99h6v1h-6zM111 99h3v1h-3zM197 100h3v1h-3zM125 100h3v1h-3zM160 100h2v1h-2zM238 100h9v1h-9zM110 100h4v2h-4zM71 100h7v2h-7zM159 101h3v1h-3zM238 101h10v1h-10zM124 101h3v1h-3zM197 101h4v2h-4zM123 102h4v1h-4zM72 102h6v1h-6zM110 102h5v1h-5zM158 102h3v1h-3zM238 102h11v2h-11zM72 103h5v1h-5zM196 103h6v1h-6zM111 103h5v1h-5zM120 103h5v1h-5zM157 103h4v2h-4zM111 104h13v1h-13zM192 104h9v1h-9zM238 104h12v1h-12zM182 104h1v1h-1zM181 105h4v1h-4zM238 105h13v1h-13zM112 105h10v1h-10zM189 105h12v1h-12zM155 105h6v1h-6zM140 106h21v1h-21zM239 106h14v1h-14zM179 106h16v1h-16zM200 106h6v1h-6zM138 107h23v1h-23zM200 107h9v1h-9zM239 107h16v1h-16zM177 107h16v1h-16zM137 108h24v1h-24zM240 108h17v1h-17zM175 108h16v1h-16zM199 108h12v1h-12zM241 109h19v1h-19zM145 109h17v1h-17zM137 109h4v1h-4zM172 109h16v1h-16zM199 109h14v1h-14zM151 110h13v1h-13zM168 110h12v1h-12zM243 110h18v1h-18zM199 110h16v1h-16zM136 110h3v2h-3zM256 111h8v1h-8zM244 111h6v1h-6zM200 111h17v1h-17zM153 111h22v1h-22zM245 112h5v1h-5zM211 112h8v1h-8zM154 112h17v1h-17zM259 112h7v1h-7zM200 112h8v1h-8zM214 113h7v1h-7zM154 113h12v1h-12zM261 113h7v1h-7zM200 113h7v2h-7zM154 114h8v1h-8zM216 114h7v1h-7zM262 114h8v1h-8zM136 112h2v4h-2zM154 115h7v1h-7zM263 115h8v1h-8zM246 113h4v4h-4zM200 115h8v2h-8zM217 115h6v2h-6zM152 116h7v1h-7zM136 116h3v1h-3zM264 116h8v1h-8zM136 117h4v1h-4zM200 117h9v1h-9zM150 117h8v1h-8zM247 117h3v1h-3zM216 117h7v1h-7zM265 117h9v1h-9zM137 118h5v1h-5zM266 118h13v1h-13zM201 118h23v1h-23zM247 118h4v1h-4zM145 118h10v1h-10zM259 118h5v1h-5zM138 119h14v1h-14zM203 119h21v1h-21zM247 119h35v2h-35zM140 120h8v1h-8zM204 120h20v1h-20zM248 121h33v1h-33zM207 121h15v1h-15zM256 122h25v1h-25zM210 122h4v1h-4zM263 123h18v1h-18zM266 124h14v1h-14zM268 125h10v1h-10zM296 198h1v2h-1zM295 200h1v3h-1zM279 208h1v2h-1zM287 210h1v1h-1zM282 211h1v2h-1zM278 210h3v4h-3zM329 212h1v2h-1zM14 213h2v1h-2zM286 211h2v4h-2zM278 214h4v1h-4zM12 214h6v1h-6zM26 214h3v1h-3zM73 215h1v1h-1zM10 215h9v1h-9zM278 215h5v1h-5zM25 215h5v1h-5zM297 203h1v14h-1zM295 213h1v4h-1zM24 216h6v1h-6zM70 216h7v1h-7zM308 216h1v1h-1zM9 216h11v1h-11zM52 216h5v1h-5zM286 215h3v3h-3zM278 216h3v2h-3zM329 217h1v1h-1zM306 217h4v1h-4zM51 217h7v1h-7zM315 217h2v1h-2zM312 217h1v1h-1zM323 217h1v1h-1zM68 217h11v1h-11zM9 217h12v2h-12zM23 217h7v2h-7zM67 218h14v1h-14zM305 218h13v1h-13zM329 218h2v1h-2zM322 218h3v2h-3zM50 218h9v2h-9zM304 219h15v1h-15zM10 219h11v1h-11zM66 219h15v1h-15zM295 217h3v4h-3zM22 219h8v2h-8zM10 220h10v1h-10zM304 220h20v1h-20zM64 220h17v1h-17zM48 220h11v1h-11zM303 221h21v1h-21zM64 221h16v1h-16zM48 221h10v1h-10zM11 221h7v1h-7zM22 221h7v1h-7zM287 218h1v5h-1zM296 221h1v2h-1zM303 222h1v1h-1zM63 222h16v1h-16zM23 222h6v1h-6zM305 222h19v1h-19zM49 222h8v1h-8zM50 223h4v1h-4zM64 223h12v1h-12zM322 223h2v1h-2zM306 223h15v1h-15zM23 223h5v1h-5zM278 218h2v7h-2zM306 224h14v1h-14zM23 224h4v1h-4zM286 223h2v3h-2zM303 225h1v1h-1zM305 225h13v1h-13zM24 225h2v1h-2zM287 226h1v1h-1zM304 226h13v1h-13zM305 227h11v1h-11zM306 228h4v1h-4zM311 228h3v1h-3z"/>
<path fill="#FF6400" d="M23 14h4v1h-4zM23 15h5v1h-5zM23 16h6v1h-6zM23 17h7v1h-7zM203 18h2v1h-2zM22 18h10v2h-10zM200 19h7v1h-7zM22 20h11v1h-11zM198 20h10v2h-10zM23 21h11v2h-11zM196 22h12v1h-12zM23 23h12v1h-12zM195 23h13v1h-13zM23 24h13v1h-13zM194 24h14v2h-14zM23 25h14v1h-14zM23 26h15v1h-15zM194 26h15v2h-15zM24 27h15v1h-15zM24 28h16v1h-16zM194 28h14v1h-14zM24 29h17v1h-17zM196 29h10v1h-10zM47 30h7v1h-7zM23 30h21v1h-21zM67 30h3v1h-3zM23 31h10v1h-10zM65 31h6v1h-6zM37 31h19v1h-19zM63 32h9v1h-9zM38 32h20v1h-20zM23 32h9v2h-9zM41 33h7v1h-7zM54 33h20v1h-20zM69 34h7v1h-7zM57 34h7v1h-7zM71 35h8v1h-8zM73 36h9v1h-9zM75 37h9v1h-9zM24 34h8v5h-8zM77 38h8v1h-8zM81 39h6v1h-6zM25 39h7v1h-7zM83 40h5v1h-5zM26 40h6v2h-6zM85 41h5v1h-5zM86 42h6v1h-6zM25 42h7v1h-7zM88 43h6v1h-6zM24 43h8v1h-8zM89 44h7v1h-7zM23 44h9v2h-9zM91 45h6v1h-6zM385 46h7v1h-7zM24 46h8v1h-8zM93 46h6v1h-6zM384 47h8v1h-8zM95 47h9v1h-9zM383 48h9v1h-9zM97 48h9v1h-9zM24 47h9v3h-9zM382 49h10v1h-10zM98 49h10v1h-10zM98 50h12v1h-12zM377 50h15v1h-15zM99 51h13v1h-13zM99 52h14v1h-14zM24 50h8v4h-8zM375 51h17v3h-17zM100 53h14v1h-14zM23 54h9v1h-9zM374 54h18v1h-18zM100 54h16v1h-16zM351 54h6v1h-6zM373 55h19v1h-19zM22 55h10v1h-10zM99 55h20v1h-20zM349 55h8v1h-8zM99 56h22v1h-22zM371 56h21v1h-21zM348 56h10v1h-10zM19 56h14v1h-14zM17 57h20v1h-20zM80 57h4v1h-4zM370 57h22v1h-22zM99 57h24v1h-24zM347 57h12v1h-12zM53 58h17v1h-17zM368 58h24v1h-24zM16 58h34v1h-34zM99 58h26v1h-26zM75 58h10v1h-10zM346 58h14v1h-14zM345 59h15v1h-15zM99 59h22v1h-22zM123 59h3v1h-3zM15 59h72v1h-72zM14 60h74v1h-74zM98 60h22v1h-22zM343 60h17v1h-17zM124 60h3v2h-3zM67 61h7v1h-7zM97 61h23v1h-23zM59 61h3v1h-3zM79 61h10v1h-10zM14 61h25v1h-25zM341 61h18v1h-18zM367 59h25v4h-25zM83 62h8v1h-8zM339 62h6v1h-6zM13 62h21v1h-21zM96 62h31v1h-31zM348 62h10v1h-10zM338 63h5v1h-5zM12 63h21v1h-21zM349 63h9v1h-9zM88 63h39v1h-39zM10 64h22v1h-22zM91 64h35v1h-35zM349 64h8v1h-8zM337 64h5v2h-5zM112 65h13v1h-13zM96 65h11v1h-11zM7 65h24v1h-24zM350 65h5v1h-5zM368 63h24v4h-24zM0 66h31v1h-31zM121 66h2v1h-2zM100 66h4v1h-4zM350 66h4v2h-4zM366 67h26v1h-26zM0 67h30v1h-30zM337 66h4v3h-4zM349 68h4v1h-4zM363 68h29v1h-29zM0 68h31v2h-31zM362 69h3v1h-3zM370 69h22v1h-22zM348 69h4v1h-4zM336 69h5v2h-5zM0 70h30v1h-30zM360 70h3v1h-3zM139 70h3v1h-3zM348 70h3v1h-3zM331 71h3v1h-3zM138 71h6v1h-6zM339 71h3v1h-3zM347 71h3v1h-3zM359 71h3v1h-3zM0 71h31v2h-31zM345 72h5v1h-5zM330 72h6v1h-6zM340 72h4v1h-4zM136 72h10v1h-10zM359 72h2v2h-2zM341 73h8v1h-8zM329 73h8v1h-8zM135 73h12v1h-12zM0 73h30v2h-30zM343 74h5v1h-5zM134 74h15v1h-15zM10 75h20v1h-20zM0 75h7v1h-7zM134 75h8v1h-8zM372 70h20v7h-20zM329 74h9v3h-9zM0 76h6v1h-6zM11 76h18v1h-18zM135 76h7v1h-7zM145 75h5v3h-5zM135 77h8v1h-8zM358 74h3v5h-3zM330 77h7v2h-7zM371 77h21v2h-21zM136 78h14v1h-14zM0 77h5v3h-5zM12 77h17v3h-17zM137 79h13v1h-13zM332 79h3v1h-3zM370 79h22v1h-22zM358 79h4v1h-4zM0 80h6v1h-6zM381 80h11v1h-11zM138 80h12v1h-12zM11 80h17v1h-17zM370 80h7v1h-7zM357 80h5v2h-5zM0 81h7v1h-7zM370 81h5v1h-5zM10 81h17v1h-17zM382 81h10v1h-10zM139 81h10v1h-10zM358 82h8v1h-8zM383 82h9v1h-9zM369 82h6v1h-6zM140 82h8v1h-8zM0 82h27v1h-27zM384 83h8v1h-8zM358 83h16v1h-16zM0 83h26v1h-26zM224 84h3v1h-3zM385 84h7v1h-7zM0 84h23v1h-23zM359 84h14v1h-14zM386 85h6v1h-6zM222 85h6v1h-6zM0 85h22v1h-22zM369 85h2v1h-2zM0 86h16v1h-16zM222 86h7v2h-7zM387 86h5v2h-5zM7 87h6v1h-6zM223 88h6v1h-6zM388 88h4v1h-4zM225 89h3v1h-3zM390 89h2v1h-2zM119 95h4v1h-4zM190 96h3v1h-3zM117 96h8v1h-8zM116 97h9v1h-9zM166 97h5v1h-5zM175 97h20v1h-20zM164 98h32v1h-32zM115 98h11v1h-11zM114 99h12v1h-12zM163 99h33v1h-33zM114 100h11v1h-11zM162 100h35v2h-35zM114 101h10v1h-10zM115 102h8v1h-8zM161 102h36v1h-36zM161 103h35v1h-35zM116 103h4v1h-4zM183 104h9v1h-9zM161 104h21v1h-21zM161 105h20v1h-20zM185 105h4v1h-4zM161 106h18v1h-18zM161 107h16v1h-16zM161 108h14v1h-14zM162 109h10v1h-10zM141 109h4v1h-4zM139 110h12v1h-12zM164 110h4v1h-4zM139 111h14v1h-14zM250 111h6v1h-6zM250 112h9v1h-9zM208 112h3v1h-3zM207 113h7v1h-7zM250 113h11v1h-11zM250 114h12v1h-12zM207 114h9v1h-9zM138 112h16v4h-16zM250 115h13v1h-13zM208 115h9v2h-9zM250 116h14v1h-14zM139 116h13v1h-13zM140 117h10v1h-10zM209 117h7v1h-7zM250 117h15v1h-15zM264 118h2v1h-2zM251 118h8v1h-8zM142 118h3v1h-3zM296 200h1v3h-1zM295 203h2v10h-2zM296 213h1v4h-1zM304 222h1v1h-1zM303 223h3v2h-3zM304 225h1v1h-1z"/>
<path fill="#FF1414" d="M33 31h4v1h-4zM32 32h6v1h-6zM32 33h9v1h-9zM48 33h6v1h-6zM32 34h25v1h-25zM64 34h5v1h-5zM32 35h39v1h-39zM32 36h41v1h-41zM66 37h9v1h-9zM32 37h24v1h-24zM32 38h19v1h-19zM69 38h8v1h-8zM72 39h9v1h-9zM32 39h9v1h-9zM74 40h9v1h-9zM32 40h8v2h-8zM76 41h9v1h-9zM78 42h8v1h-8zM32 42h6v2h-6zM79 43h9v1h-9zM81 44h8v1h-8zM81 45h10v1h-10zM32 44h7v3h-7zM82 46h11v1h-11zM82 47h13v1h-13zM82 48h15v1h-15zM33 47h6v3h-6zM82 49h16v1h-16zM81 50h17v1h-17zM81 51h18v1h-18zM32 50h7v3h-7zM80 52h19v1h-19zM78 53h22v1h-22zM32 53h9v1h-9zM32 54h10v1h-10zM77 54h23v1h-23zM61 54h9v1h-9zM32 55h67v1h-67zM33 56h66v1h-66zM37 57h43v1h-43zM84 57h15v1h-15zM85 58h14v1h-14zM70 58h5v1h-5zM50 58h3v1h-3zM87 59h12v1h-12zM121 59h2v1h-2zM88 60h10v1h-10zM120 60h4v2h-4zM89 61h8v1h-8zM345 62h3v1h-3zM91 62h5v1h-5zM343 63h6v1h-6zM342 64h7v1h-7zM342 65h8v1h-8zM341 66h9v2h-9zM341 68h8v1h-8zM365 69h5v1h-5zM341 69h7v2h-7zM363 70h9v1h-9zM342 71h5v1h-5zM362 71h10v1h-10zM344 72h1v1h-1zM7 75h3v1h-3zM361 72h11v5h-11zM142 75h3v2h-3zM6 76h5v1h-5zM143 77h2v1h-2zM361 77h10v2h-10zM5 77h7v3h-7zM6 80h5v1h-5zM362 79h8v3h-8zM7 81h3v1h-3zM366 82h3v1h-3z"/>
<path fill="#FF6E78" d="M56 37h10v1h-10zM51 38h18v1h-18zM41 39h16v1h-16zM63 39h9v1h-9zM65 40h9v1h-9zM40 40h15v2h-15zM71 41h5v1h-5zM73 42h5v1h-5zM38 42h16v1h-16zM38 43h15v1h-15zM73 43h6v1h-6zM74 44h7v2h-7zM39 44h14v5h-14zM75 46h7v4h-7zM39 49h15v1h-15zM39 50h16v1h-16zM74 50h7v1h-7zM73 51h8v1h-8zM39 51h18v1h-18zM63 51h5v1h-5zM39 52h41v1h-41zM41 53h37v1h-37zM70 54h7v1h-7zM42 54h19v1h-19z"/>
<path fill="#FFB4BE" d="M57 39h6v1h-6zM55 40h10v1h-10zM55 41h16v1h-16zM54 42h19v1h-19zM53 43h20v1h-20zM53 44h21v2h-21zM53 46h22v3h-22zM54 49h21v1h-21zM55 50h19v1h-19zM57 51h6v1h-6zM68 51h5v1h-5z"/>
</g>
<g shape-rendering="crispEdges" fill="#000">
<path d="M255 130h394v263h-394zM257 132v259h390v-259z" fill-rule="evenodd"/>
<rect x="271" y="388" width="1" height="4"/>
<rect x="271" y="131" width="1" height="5"/>
<rect x="286" y="388" width="1" height="4"/>
<rect x="286" y="131" width="1" height="5"/>
<rect x="302" y="388" width="1" height="4"/>
<rect x="302" y="131" width="1" height="5"/>
<rect x="317" y="388" width="1" height="4"/>
<rect x="317" y="131" width="1" height="5"/>
<rect x="331" y="382" width="2" height="10"/>
<rect x="331" y="131" width="2" height="10"/>
<rect x="348" y="388" width="1" height="4"/>
<rect x="348" y="131" width="1" height="5"/>
<rect x="363" y="388" width="1" height="4"/>
<rect x="363" y="131" width="1" height="5"/>
<rect x="378" y="388" width="1" height="4"/>
<rect x="378" y="131" width="1" height="5"/>
<rect x="394" y="388" width="1" height="4"/>
<rect x="394" y="131" width="1" height="5"/>
<rect x="408" y="382" width="2" height="10"/>
<rect x="408" y="131" width="2" height="10"/>
<rect x="424" y="388" width="1" height="4"/>
<rect x="424" y="131" width="1" height="5"/>
<rect x="440" y="388" width="1" height="4"/>
<rect x="440" y="131" width="1" height="5"/>
<rect x="455" y="388" width="1" height="4"/>
<rect x="455" y="131" width="1" height="5"/>
<rect x="470" y="388" width="1" height="4"/>
<rect x="470" y="131" width="1" height="5"/>
<rect x="485" y="382" width="2" height="10"/>
<rect x="485" y="131" width="2" height="10"/>
<rect x="501" y="388" width="1" height="4"/>
<rect x="501" y="131" width="1" height="5"/>
<rect x="516" y="388" width="1" height="4"/>
<rect x="516" y="131" width="1" height="5"/>
<rect x="532" y="388" width="1" height="4"/>
<rect x="532" y="131" width="1" height="5"/>
<rect x="547" y="388" width="1" height="4"/>
<rect x="547" y="131" width="1" height="5"/>
<rect x="561" y="382" width="2" height="10"/>
<rect x="561" y="131" width="2" height="10"/>
<rect x="578" y="388" width="1" height="4"/>
<rect x="578" y="131" width="1" height="5"/>
<rect x="593" y="388" width="1" height="4"/>
<rect x="593" y="131" width="1" height="5"/>
<rect x="608" y="388" width="1" height="4"/>
<rect x="608" y="131" width="1" height="5"/>
<rect x="624" y="388" width="1" height="4"/>
<rect x="624" y="131" width="1" height="5"/>
<rect x="638" y="382" width="2" height="10"/>
<rect x="638" y="131" width="2" height="10"/>
<rect x="256" y="376" width="5" height="1"/>
<rect x="644" y="376" width="4" height="1"/>
<rect x="256" y="358" width="5" height="1"/>
<rect x="644" y="358" width="4" height="1"/>
<rect x="256" y="341" width="5" height="1"/>
<rect x="644" y="341" width="4" height="1"/>
<rect x="256" y="323" width="5" height="1"/>
<rect x="644" y="323" width="4" height="1"/>
<rect x="256" y="305" width="10" height="2"/>
<rect x="639" y="305" width="9" height="2"/>
<rect x="256" y="288" width="5" height="1"/>
<rect x="644" y="288" width="4" height="1"/>
<rect x="256" y="270" width="5" height="1"/>
<rect x="644" y="270" width="4" height="1"/>
<rect x="256" y="253" width="5" height="1"/>
<rect x="644" y="253" width="4" height="1"/>
<rect x="256" y="235" width="5" height="1"/>
<rect x="644" y="235" width="4" height="1"/>
<rect x="256" y="217" width="10" height="2"/>
<rect x="639" y="217" width="9" height="2"/>
<rect x="256" y="200" width="5" height="1"/>
<rect x="644" y="200" width="4" height="1"/>
<rect x="256" y="182" width="5" height="1"/>
<rect x="644" y="182" width="4" height="1"/>
<rect x="256" y="165" width="5" height="1"/>
<rect x="644" y="165" width="4" height="1"/>
<rect x="256" y="147" width="5" height="1"/>
<rect x="644" y="147" width="4" height="1"/>
</g>
<g shape-rendering="crispEdges">
<rect x="664" y="367" width="13" height="25" fill="#F000B4"/>
<rect x="664" y="350" width="13" height="17" fill="#B400A0"/>
<rect x="664" y="333" width="13" height="17" fill="#6E00AA"/>
<rect x="664" y="316" width="13" height="17" fill="#0000A0"/>
<rect x="664" y="308" width="13" height="8" fill="#001EFF"/>
<rect x="664" y="299" width="13" height="9" fill="#00F0FF"/>
<rect x="664" y="291" width="13" height="8" fill="#00FF50"/>
<rect x="664" y="282" width="13" height="9" fill="#F0FF00"/>
<rect x="664" y="274" width="13" height="8" fill="#FFC800"/>
<rect x="664" y="266" width="13" height="8" fill="#FFA000"/>
<rect x="664" y="249" width="13" height="17" fill="#FF6400"/>
<rect x="664" y="232" width="13" height="17" fill="#FF1414"/>
<rect x="664" y="215" width="13" height="17" fill="#FF6E78"/>
<rect x="664" y="196" width="13" height="19" fill="#FFB4BE"/>
<path d="M664 196L671.5 167.5L677 196z" fill="#FFE1E1" stroke="#000" stroke-width="2" stroke-linejoin="round"/>
<rect x="663" y="391" width="15" height="2" fill="#000"/>
<rect x="663" y="366" width="15" height="2" fill="#000"/>
<rect x="663" y="349" width="15" height="2" fill="#000"/>
<rect x="663" y="332" width="15" height="2" fill="#000"/>
<rect x="663" y="315" width="15" height="2" fill="#000"/>
<rect x="663" y="307" width="15" height="2" fill="#000"/>
<rect x="663" y="298" width="15" height="2" fill="#000"/>
<rect x="663" y="290" width="15" height="2" fill="#000"/>
<rect x="663" y="281" width="15" height="2" fill="#000"/>
<rect x="663" y="273" width="15" height="2" fill="#000"/>
<rect x="663" y="265" width="15" height="2" fill="#000"/>
<rect x="663" y="248" width="15" height="2" fill="#000"/>
<rect x="663" y="231" width="15" height="2" fill="#000"/>
<rect x="663" y="214" width="15" height="2" fill="#000"/>
<rect x="663" y="195" width="15" height="2" fill="#000"/>
<rect x="663" y="195" width="2" height="198" fill="#000"/>
<rect x="676" y="195" width="2" height="198" fill="#000"/>
</g>
<g id="labels" font-family="'Liberation Sans',sans-serif" fill="#000">
<text y="85.00" font-size="29.6" stroke="#fff" stroke-width="0.5"><tspan x="173.60" letter-spacing="1.950">disturbunce</tspan> <tspan x="361.48" letter-spacing="3.300">of</tspan> <tspan x="406.70" letter-spacing="2.006">potential</tspan> <tspan x="550.03" letter-spacing="2.155">temperature</tspan></text>
<text y="108.80" transform="scale(1.0400,1)" font-size="19.3" stroke="#000" stroke-width="0.3"><tspan x="157.24" letter-spacing="0.221">(×1E4</tspan> <tspan x="219.21" letter-spacing="0.700">m)</tspan></text>
<text y="142.70" transform="scale(1.1300,1)" font-size="16.8" stroke="#fff" stroke-width="0.12"><tspan x="580.22" letter-spacing="0.608">t=127200</tspan> <tspan x="661.72">s</tspan></text>
<text y="438.00" transform="scale(1.0400,1)" font-size="19.0" stroke="#000" stroke-width="0.3"><tspan x="545.09" letter-spacing="0.029">(×1E5</tspan> <tspan x="606.51" letter-spacing="0.700">m)</tspan></text>
<text y="468.70" font-size="24.4"><tspan x="372.18" letter-spacing="0.691">X<tspan textLength="23" lengthAdjust="spacingAndGlyphs">-</tspan>coordinate</tspan></text>
<text transform="translate(218.00,341.45) rotate(-90) scale(1.0000,1)" font-size="24.6" letter-spacing="0.700">Z<tspan textLength="23" lengthAdjust="spacingAndGlyphs">-</tspan>coordinate</text>
<text y="414.80" transform="scale(0.8000,1)" font-size="18.6" stroke="#000" stroke-width="0.3"><tspan x="410.50">1</tspan></text>
<text y="414.80" transform="scale(1.1657,1)" font-size="18.6" stroke="#000" stroke-width="0.3"><tspan x="345.99">2</tspan></text>
<text y="414.80" transform="scale(1.1027,1)" font-size="18.6" stroke="#000" stroke-width="0.3"><tspan x="435.79">3</tspan></text>
<text y="414.80" transform="scale(1.0872,1)" font-size="18.6" stroke="#000" stroke-width="0.3"><tspan x="512.36">4</tspan></text>
<text y="414.80" transform="scale(1.1243,1)" font-size="18.6" stroke="#000" stroke-width="0.3"><tspan x="563.39">5</tspan></text>
<text y="311.80" transform="scale(0.8000,1)" font-size="18.4" stroke="#000" stroke-width="0.3"><tspan x="295.50">1</tspan></text>
<text y="223.90" transform="scale(1.1657,1)" font-size="18.4" stroke="#000" stroke-width="0.3"><tspan x="200.93">2</tspan></text>
<text y="237.40" transform="scale(1.1294,1)" font-size="18.2" stroke="#000" stroke-width="0.3"><tspan x="607.44">7</tspan></text>
<text y="279.90" transform="scale(1.0941,1)" font-size="18.2" stroke="#000" stroke-width="0.3"><tspan x="627.06">2</tspan></text>
<text y="305.20" transform="scale(0.9256,1)" font-size="18.4" stroke="#000" stroke-width="0.3"><tspan x="740.63"><tspan textLength="13.5" lengthAdjust="spacingAndGlyphs">-</tspan>1</tspan></text>
<text y="338.80" transform="scale(0.9956,1)" font-size="18.4" stroke="#000" stroke-width="0.3"><tspan x="688.37"><tspan textLength="14.5" lengthAdjust="spacingAndGlyphs">-</tspan>5</tspan></text>
<text y="397.90" transform="scale(0.9984,1)" font-size="18.4" stroke="#000" stroke-width="0.3"><tspan x="686.37"><tspan textLength="14.0" lengthAdjust="spacingAndGlyphs">-</tspan>12</tspan></text>
</g>
</svg>
</body></html>
